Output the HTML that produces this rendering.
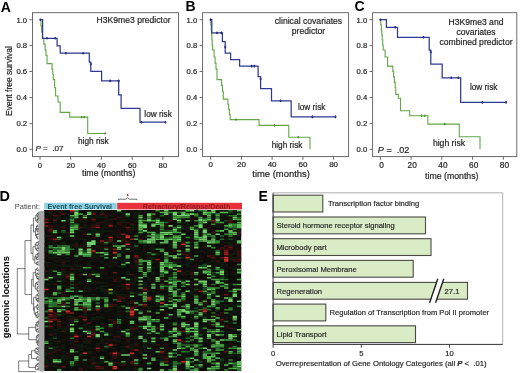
<!DOCTYPE html>
<html><head><meta charset="utf-8"><title>Figure</title>
<style>
html,body{margin:0;padding:0;background:#fff;}
svg{display:block;}
text{font-family:"Liberation Sans", sans-serif;fill:#1c1c1c;stroke:#1c1c1c;stroke-width:0.18px;}
.b{font-weight:bold;fill:#000;stroke:none;}
.t{font-size:7.7px;}
.l{font-size:8.6px;}
.e{font-size:7.6px;fill:#2a2a2a;}
</style></head><body>
<svg width="520" height="373" viewBox="0 0 520 373">
<rect width="520" height="373" fill="#fff"/>

<g>
<rect x="32.5" y="12.7" width="146.0" height="143.9" fill="#fff" stroke="#5c5c5c" stroke-width="0.9"/>
<line x1="29.5" y1="19.7" x2="32.5" y2="19.7" stroke="#5c5c5c" stroke-width="0.9"/>
<text class="t" x="27.1" y="22.5" text-anchor="end">1.0</text>
<line x1="29.5" y1="45.6" x2="32.5" y2="45.6" stroke="#5c5c5c" stroke-width="0.9"/>
<text class="t" x="27.1" y="48.4" text-anchor="end">0.8</text>
<line x1="29.5" y1="71.5" x2="32.5" y2="71.5" stroke="#5c5c5c" stroke-width="0.9"/>
<text class="t" x="27.1" y="74.3" text-anchor="end">0.6</text>
<line x1="29.5" y1="97.5" x2="32.5" y2="97.5" stroke="#5c5c5c" stroke-width="0.9"/>
<text class="t" x="27.1" y="100.3" text-anchor="end">0.4</text>
<line x1="29.5" y1="123.4" x2="32.5" y2="123.4" stroke="#5c5c5c" stroke-width="0.9"/>
<text class="t" x="27.1" y="126.2" text-anchor="end">0.2</text>
<line x1="29.5" y1="149.3" x2="32.5" y2="149.3" stroke="#5c5c5c" stroke-width="0.9"/>
<text class="t" x="27.1" y="152.1" text-anchor="end">0.0</text>
<line x1="40.0" y1="156.6" x2="40.0" y2="159.79999999999998" stroke="#5c5c5c" stroke-width="0.9"/>
<text x="40.0" y="168.0" text-anchor="middle" style="font-size:7.7px">0</text>
<line x1="70.7" y1="156.6" x2="70.7" y2="159.79999999999998" stroke="#5c5c5c" stroke-width="0.9"/>
<text x="70.7" y="168.0" text-anchor="middle" style="font-size:7.7px">20</text>
<line x1="101.4" y1="156.6" x2="101.4" y2="159.79999999999998" stroke="#5c5c5c" stroke-width="0.9"/>
<text x="101.4" y="168.0" text-anchor="middle" style="font-size:7.7px">40</text>
<line x1="132.2" y1="156.6" x2="132.2" y2="159.79999999999998" stroke="#5c5c5c" stroke-width="0.9"/>
<text x="132.2" y="168.0" text-anchor="middle" style="font-size:7.7px">60</text>
<line x1="162.9" y1="156.6" x2="162.9" y2="159.79999999999998" stroke="#5c5c5c" stroke-width="0.9"/>
<text x="162.9" y="168.0" text-anchor="middle" style="font-size:7.7px">80</text>
<text x="82" y="175.8" style="font-size:8.74px">time (months)</text>
<path d="M40.3 19.7H41.0V25.9H41.7V32.1H42.4V38.3H43.8V44.1H45.1V50.0H46.0V55.4H47.0V60.7H47.0V63.6H51.4V63.6H52.0V68.9H52.7V74.3H53.3V79.6H54.6V87.8H55.6V96.0H58.0V96.0H58.0V102.0H60.2V102.0H60.2V112.4H69.7V117.1H87.7V133.5H105.1V133.5" fill="none" stroke="#62a744" stroke-width="1.1"/>
<path d="M81.6 115.9V118.3M80.6 117.1H82.6" stroke="#4c8f33" stroke-width="1"/>
<path d="M84.4 115.9V118.3M83.4 117.1H85.4" stroke="#4c8f33" stroke-width="1"/>
<path d="M105.1 132.3V134.7M104.1 133.5H106.1" stroke="#4c8f33" stroke-width="1"/>
<path d="M40.3 19.7H42.6V38.3H57.1V45.9H60.2V53.2H89.3V62.0H90.8V71.4H101.6V80.9H118.7V94.8H121.1V108.3H140.0V122.2H165.4V122.2" fill="none" stroke="#2f3a93" stroke-width="1.25"/>
<path d="M40.3 18.4V21.0M39.2 19.7H41.4" stroke="#232c7a" stroke-width="1.1"/>
<path d="M47.0 37.0V39.6M45.9 38.3H48.1" stroke="#232c7a" stroke-width="1.1"/>
<path d="M55.2 37.0V39.6M54.1 38.3H56.3" stroke="#232c7a" stroke-width="1.1"/>
<path d="M65.9 51.9V54.5M64.8 53.2H67.0" stroke="#232c7a" stroke-width="1.1"/>
<path d="M83.1 51.9V54.5M82.0 53.2H84.2" stroke="#232c7a" stroke-width="1.1"/>
<path d="M90.8 62.7V65.3M89.7 64.0H91.9" stroke="#232c7a" stroke-width="1.1"/>
<path d="M110.2 79.6V82.2M109.1 80.9H111.3" stroke="#232c7a" stroke-width="1.1"/>
<path d="M118.7 79.6V82.2M117.6 80.9H119.8" stroke="#232c7a" stroke-width="1.1"/>
<path d="M141.5 120.9V123.5M140.4 122.2H142.6" stroke="#232c7a" stroke-width="1.1"/>
<path d="M165.4 120.9V123.5M164.3 122.2H166.5" stroke="#232c7a" stroke-width="1.1"/>
<text class="l" x="133.6" y="23.2" text-anchor="middle">H3K9me3 predictor</text>
<text x="35.4" y="150.5" style="font-size:8.1px"><tspan font-style="italic">P</tspan> =&#160;&#160;.07</text>
<text x="144.3" y="117.3" style="font-size:8.25px">low risk</text>
<text x="78" y="143.7" style="font-size:8.25px">high risk</text>
</g>
<g>
<rect x="202.6" y="12.7" width="146.00000000000003" height="143.9" fill="#fff" stroke="#5c5c5c" stroke-width="0.9"/>
<line x1="199.6" y1="19.7" x2="202.6" y2="19.7" stroke="#5c5c5c" stroke-width="0.9"/>
<text class="t" x="197.2" y="22.5" text-anchor="end">1.0</text>
<line x1="199.6" y1="45.6" x2="202.6" y2="45.6" stroke="#5c5c5c" stroke-width="0.9"/>
<text class="t" x="197.2" y="48.4" text-anchor="end">0.8</text>
<line x1="199.6" y1="71.5" x2="202.6" y2="71.5" stroke="#5c5c5c" stroke-width="0.9"/>
<text class="t" x="197.2" y="74.3" text-anchor="end">0.6</text>
<line x1="199.6" y1="97.5" x2="202.6" y2="97.5" stroke="#5c5c5c" stroke-width="0.9"/>
<text class="t" x="197.2" y="100.3" text-anchor="end">0.4</text>
<line x1="199.6" y1="123.4" x2="202.6" y2="123.4" stroke="#5c5c5c" stroke-width="0.9"/>
<text class="t" x="197.2" y="126.2" text-anchor="end">0.2</text>
<line x1="199.6" y1="149.3" x2="202.6" y2="149.3" stroke="#5c5c5c" stroke-width="0.9"/>
<text class="t" x="197.2" y="152.1" text-anchor="end">0.0</text>
<line x1="210.7" y1="156.6" x2="210.7" y2="159.79999999999998" stroke="#5c5c5c" stroke-width="0.9"/>
<text x="210.7" y="167.2" text-anchor="middle" style="font-size:8.0px">0</text>
<line x1="241.4" y1="156.6" x2="241.4" y2="159.79999999999998" stroke="#5c5c5c" stroke-width="0.9"/>
<text x="241.4" y="167.2" text-anchor="middle" style="font-size:8.0px">20</text>
<line x1="272.1" y1="156.6" x2="272.1" y2="159.79999999999998" stroke="#5c5c5c" stroke-width="0.9"/>
<text x="272.1" y="167.2" text-anchor="middle" style="font-size:8.0px">40</text>
<line x1="302.9" y1="156.6" x2="302.9" y2="159.79999999999998" stroke="#5c5c5c" stroke-width="0.9"/>
<text x="302.9" y="167.2" text-anchor="middle" style="font-size:8.0px">60</text>
<line x1="333.6" y1="156.6" x2="333.6" y2="159.79999999999998" stroke="#5c5c5c" stroke-width="0.9"/>
<text x="333.6" y="167.2" text-anchor="middle" style="font-size:8.0px">80</text>
<text x="252.3" y="177" style="font-size:9.44px">time (months)</text>
<path d="M210.5 19.7H210.8V24.8H211.2V29.8H211.6V34.9H211.9V39.9H212.2V45.0H212.6V50.0H214.1V57.0H215.1V63.1H216.0V69.1H217.0V75.2H217.0V79.6H220.8V79.6H221.6V85.4H222.5V91.2H223.3V97.0H223.3V99.1H227.1V99.1H227.9V104.2H228.6V109.3H229.4V114.5H230.2V119.6H259.1V125.4H288.8V137.2H310.0V149.2" fill="none" stroke="#62a744" stroke-width="1.1"/>
<path d="M236.0 118.4V120.8M235.0 119.6H237.0" stroke="#4c8f33" stroke-width="1"/>
<path d="M274.5 124.2V126.6M273.5 125.4H275.5" stroke="#4c8f33" stroke-width="1"/>
<path d="M298.3 136.0V138.4M297.3 137.2H299.3" stroke="#4c8f33" stroke-width="1"/>
<path d="M210.5 19.7H211.8V32.9H222.4V41.5H225.2V53.2H230.6V59.5H239.6V66.1H258.1V76.5H260.6V88.5H271.5V100.8H291.2V116.9H335.5V116.9" fill="none" stroke="#2f3a93" stroke-width="1.25"/>
<path d="M210.5 18.4V21.0M209.4 19.7H211.6" stroke="#232c7a" stroke-width="1.1"/>
<path d="M217.0 31.6V34.2M215.9 32.9H218.1" stroke="#232c7a" stroke-width="1.1"/>
<path d="M221.5 31.6V34.2M220.4 32.9H222.6" stroke="#232c7a" stroke-width="1.1"/>
<path d="M225.2 45.7V48.3M224.1 47.0H226.3" stroke="#232c7a" stroke-width="1.1"/>
<path d="M251.6 64.8V67.4M250.5 66.1H252.7" stroke="#232c7a" stroke-width="1.1"/>
<path d="M254.4 64.8V67.4M253.3 66.1H255.5" stroke="#232c7a" stroke-width="1.1"/>
<path d="M260.6 77.7V80.3M259.5 79.0H261.7" stroke="#232c7a" stroke-width="1.1"/>
<path d="M280.6 99.5V102.1M279.5 100.8H281.7" stroke="#232c7a" stroke-width="1.1"/>
<path d="M312.4 115.6V118.2M311.3 116.9H313.5" stroke="#232c7a" stroke-width="1.1"/>
<path d="M335.5 115.6V118.2M334.4 116.9H336.6" stroke="#232c7a" stroke-width="1.1"/>
<text class="l" x="308.5" y="24.2" text-anchor="middle">clinical covariates</text>
<text class="l" x="308.5" y="34.3" text-anchor="middle">predictor</text>
<text x="297.9" y="110.2" style="font-size:8.25px">low risk</text>
<text x="271.7" y="148.1" style="font-size:8.25px">high risk</text>
</g>
<g>
<rect x="372.6" y="12.7" width="144.19999999999993" height="143.9" fill="#fff" stroke="#5c5c5c" stroke-width="0.9"/>
<line x1="369.6" y1="19.7" x2="372.6" y2="19.7" stroke="#5c5c5c" stroke-width="0.9"/>
<text class="t" x="367.20000000000005" y="22.5" text-anchor="end">1.0</text>
<line x1="369.6" y1="45.6" x2="372.6" y2="45.6" stroke="#5c5c5c" stroke-width="0.9"/>
<text class="t" x="367.20000000000005" y="48.4" text-anchor="end">0.8</text>
<line x1="369.6" y1="71.5" x2="372.6" y2="71.5" stroke="#5c5c5c" stroke-width="0.9"/>
<text class="t" x="367.20000000000005" y="74.3" text-anchor="end">0.6</text>
<line x1="369.6" y1="97.5" x2="372.6" y2="97.5" stroke="#5c5c5c" stroke-width="0.9"/>
<text class="t" x="367.20000000000005" y="100.3" text-anchor="end">0.4</text>
<line x1="369.6" y1="123.4" x2="372.6" y2="123.4" stroke="#5c5c5c" stroke-width="0.9"/>
<text class="t" x="367.20000000000005" y="126.2" text-anchor="end">0.2</text>
<line x1="369.6" y1="149.3" x2="372.6" y2="149.3" stroke="#5c5c5c" stroke-width="0.9"/>
<text class="t" x="367.20000000000005" y="152.1" text-anchor="end">0.0</text>
<line x1="380.4" y1="156.6" x2="380.4" y2="159.79999999999998" stroke="#5c5c5c" stroke-width="0.9"/>
<text x="381.5" y="168.0" text-anchor="middle" style="font-size:8.3px">0</text>
<line x1="411.1" y1="156.6" x2="411.1" y2="159.79999999999998" stroke="#5c5c5c" stroke-width="0.9"/>
<text x="412.2" y="168.0" text-anchor="middle" style="font-size:8.3px">20</text>
<line x1="441.8" y1="156.6" x2="441.8" y2="159.79999999999998" stroke="#5c5c5c" stroke-width="0.9"/>
<text x="442.9" y="168.0" text-anchor="middle" style="font-size:8.3px">40</text>
<line x1="472.6" y1="156.6" x2="472.6" y2="159.79999999999998" stroke="#5c5c5c" stroke-width="0.9"/>
<text x="473.7" y="168.0" text-anchor="middle" style="font-size:8.3px">60</text>
<line x1="503.3" y1="156.6" x2="503.3" y2="159.79999999999998" stroke="#5c5c5c" stroke-width="0.9"/>
<text x="504.4" y="168.0" text-anchor="middle" style="font-size:8.3px">80</text>
<text x="425.1" y="178.5" style="font-size:8.74px">time (months)</text>
<path d="M380.3 19.7H380.8V24.8H381.3V29.8H381.8V34.9H382.2V39.9H382.7V45.0H383.2V50.0H385.1V57.0H387.6V63.2H387.6V66.1H392.0V66.1H392.8V71.5H393.6V76.9H394.4V82.4H395.2V87.8H395.8V94.4H398.3V94.4H398.3V98.2H400.5V98.2H400.5V110.8H409.7V115.8H427.9V124.1H459.3V136.8H480.0V149.2" fill="none" stroke="#62a744" stroke-width="1.1"/>
<path d="M421.6 114.6V117.0M420.6 115.8H422.6" stroke="#4c8f33" stroke-width="1"/>
<path d="M424.8 114.6V117.0M423.8 115.8H425.8" stroke="#4c8f33" stroke-width="1"/>
<path d="M444.8 122.9V125.3M443.8 124.1H445.8" stroke="#4c8f33" stroke-width="1"/>
<path d="M380.3 19.7H386.4V27.3H397.5V37.3H429.2V50.0H430.8V64.1H442.2V77.8H460.7V102.4H506.0V102.4" fill="none" stroke="#2f3a93" stroke-width="1.25"/>
<path d="M380.3 18.4V21.0M379.2 19.7H381.4" stroke="#232c7a" stroke-width="1.1"/>
<path d="M395.2 26.0V28.6M394.1 27.3H396.3" stroke="#232c7a" stroke-width="1.1"/>
<path d="M423.5 36.0V38.6M422.4 37.3H424.6" stroke="#232c7a" stroke-width="1.1"/>
<path d="M430.8 50.7V53.3M429.7 52.0H431.9" stroke="#232c7a" stroke-width="1.1"/>
<path d="M451.2 76.5V79.1M450.1 77.8H452.3" stroke="#232c7a" stroke-width="1.1"/>
<path d="M458.3 76.5V79.1M457.2 77.8H459.4" stroke="#232c7a" stroke-width="1.1"/>
<path d="M482.4 101.1V103.7M481.3 102.4H483.5" stroke="#232c7a" stroke-width="1.1"/>
<path d="M506.0 101.1V103.7M504.9 102.4H507.1" stroke="#232c7a" stroke-width="1.1"/>
<text class="l" x="476" y="24.5" text-anchor="middle">H3K9me3 and</text>
<text class="l" x="476" y="34.6" text-anchor="middle">covariates</text>
<text class="l" x="476" y="44.7" text-anchor="middle">combined predictor</text>
<text x="377.8" y="152.6" style="font-size:9.1px"><tspan font-style="italic">P</tspan> =&#160;&#160;.02</text>
<text x="469.9" y="90.2" style="font-size:8.25px">low risk</text>
<text x="432.9" y="146.0" style="font-size:8.65px">high risk</text>
</g>
<text class="l" transform="translate(12,116) rotate(-90)" style="font-size:8.5px">Event free survival</text>
<text class="b" x="0.8" y="11.6" style="font-size:14px">A</text>
<text class="b" x="185.5" y="11.2" style="font-size:14px">B</text>
<text class="b" x="354.4" y="11.2" style="font-size:14px">C</text>
<text class="b" x="-0.5" y="201.2" style="font-size:14.4px">D</text>
<text class="b" x="258.6" y="200.8" style="font-size:14px">E</text>
<g>
<text x="14.8" y="209.2" style="font-size:7.6px;fill:#4a4a4a;stroke:none" textLength="25.2" lengthAdjust="spacingAndGlyphs">Patient:</text>
<rect x="44.2" y="202.8" width="72.6" height="6.6" fill="#8fd0e2"/>
<rect x="117.2" y="202.8" width="124.8" height="6.6" fill="#e8313a"/>
<text x="47.4" y="208.7" style="font-size:7.2px;font-weight:bold;fill:#17525f;stroke:none">Event free Survival</text>
<text x="142.8" y="208.7" style="font-size:7.2px;font-weight:bold;fill:#8c1d22;stroke:none">Refractory/Relapse/Death</text>
<path d="M118.6 200.2V199.2H126L127.7 197.8L129.4 199.2H136.9V200.2" fill="none" stroke="#333" stroke-width="0.7"/>
<circle cx="127.7" cy="195" r="0.9" fill="#d22"/>
<text class="b" transform="translate(9.4,338.2) rotate(-90)" style="font-size:9.35px">genomic locations</text>
<rect x="44.2" y="210" width="197.0" height="161" fill="#0a0d09"/>
<defs><filter id="bl" x="0" y="0" width="100%" height="100%"><feGaussianBlur stdDeviation="0.75 0.55"/></filter></defs>
<g filter="url(#bl)">
<path fill="#1c0e0c" d="M44.20 210.00h4.28v1.54h-4.28zM44.20 228.45h4.28v1.54h-4.28zM44.20 230.12h4.28v1.54h-4.28zM44.20 243.54h4.28v1.54h-4.28zM44.20 251.93h4.28v1.54h-4.28zM44.20 255.28h4.28v1.54h-4.28zM44.20 258.64h4.28v1.54h-4.28zM44.20 263.67h4.28v1.54h-4.28zM44.20 272.05h4.28v1.54h-4.28zM44.20 285.47h4.28v1.54h-4.28zM44.20 292.18h4.28v1.54h-4.28zM44.20 308.95h4.28v1.54h-4.28zM44.20 339.14h4.28v1.54h-4.28zM44.20 347.52h4.28v1.54h-4.28zM44.20 350.88h4.28v1.54h-4.28zM44.20 355.91h4.28v1.54h-4.28zM44.20 367.65h4.28v1.54h-4.28zM48.48 215.03h4.28v1.54h-4.28zM48.48 221.74h4.28v1.54h-4.28zM48.48 258.64h4.28v1.54h-4.28zM48.48 265.34h4.28v1.54h-4.28zM48.48 273.73h4.28v1.54h-4.28zM48.48 288.82h4.28v1.54h-4.28zM48.48 290.50h4.28v1.54h-4.28zM48.48 307.27h4.28v1.54h-4.28zM48.48 322.36h4.28v1.54h-4.28zM48.48 324.04h4.28v1.54h-4.28zM48.48 327.40h4.28v1.54h-4.28zM48.48 332.43h4.28v1.54h-4.28zM48.48 344.17h4.28v1.54h-4.28zM48.48 354.23h4.28v1.54h-4.28zM48.48 355.91h4.28v1.54h-4.28zM48.48 357.58h4.28v1.54h-4.28zM48.48 362.61h4.28v1.54h-4.28zM48.48 364.29h4.28v1.54h-4.28zM48.48 369.32h4.28v1.54h-4.28zM52.77 210.00h4.28v1.54h-4.28zM52.77 211.68h4.28v1.54h-4.28zM52.77 213.35h4.28v1.54h-4.28zM52.77 225.09h4.28v1.54h-4.28zM52.77 235.16h4.28v1.54h-4.28zM52.77 236.83h4.28v1.54h-4.28zM52.77 241.86h4.28v1.54h-4.28zM52.77 256.96h4.28v1.54h-4.28zM52.77 268.70h4.28v1.54h-4.28zM52.77 272.05h4.28v1.54h-4.28zM52.77 280.44h4.28v1.54h-4.28zM52.77 287.15h4.28v1.54h-4.28zM52.77 290.50h4.28v1.54h-4.28zM52.77 298.89h4.28v1.54h-4.28zM52.77 334.10h4.28v1.54h-4.28zM52.77 339.14h4.28v1.54h-4.28zM52.77 342.49h4.28v1.54h-4.28zM52.77 364.29h4.28v1.54h-4.28zM57.05 210.00h4.28v1.54h-4.28zM57.05 211.68h4.28v1.54h-4.28zM57.05 225.09h4.28v1.54h-4.28zM57.05 240.19h4.28v1.54h-4.28zM57.05 258.64h4.28v1.54h-4.28zM57.05 260.31h4.28v1.54h-4.28zM57.05 261.99h4.28v1.54h-4.28zM57.05 265.34h4.28v1.54h-4.28zM57.05 350.88h4.28v1.54h-4.28zM57.05 354.23h4.28v1.54h-4.28zM57.05 365.97h4.28v1.54h-4.28zM61.33 210.00h4.28v1.54h-4.28zM61.33 211.68h4.28v1.54h-4.28zM61.33 221.74h4.28v1.54h-4.28zM61.33 223.42h4.28v1.54h-4.28zM61.33 228.45h4.28v1.54h-4.28zM61.33 255.28h4.28v1.54h-4.28zM61.33 258.64h4.28v1.54h-4.28zM61.33 275.41h4.28v1.54h-4.28zM61.33 278.76h4.28v1.54h-4.28zM61.33 283.79h4.28v1.54h-4.28zM61.33 290.50h4.28v1.54h-4.28zM61.33 307.27h4.28v1.54h-4.28zM61.33 312.30h4.28v1.54h-4.28zM61.33 322.36h4.28v1.54h-4.28zM61.33 325.72h4.28v1.54h-4.28zM61.33 335.78h4.28v1.54h-4.28zM61.33 345.84h4.28v1.54h-4.28zM61.33 354.23h4.28v1.54h-4.28zM65.61 221.74h4.28v1.54h-4.28zM65.61 223.42h4.28v1.54h-4.28zM65.61 233.48h4.28v1.54h-4.28zM65.61 238.51h4.28v1.54h-4.28zM65.61 260.31h4.28v1.54h-4.28zM65.61 270.38h4.28v1.54h-4.28zM65.61 272.05h4.28v1.54h-4.28zM65.61 273.73h4.28v1.54h-4.28zM65.61 278.76h4.28v1.54h-4.28zM65.61 282.11h4.28v1.54h-4.28zM65.61 287.15h4.28v1.54h-4.28zM65.61 317.33h4.28v1.54h-4.28zM65.61 319.01h4.28v1.54h-4.28zM65.61 322.36h4.28v1.54h-4.28zM65.61 327.40h4.28v1.54h-4.28zM65.61 339.14h4.28v1.54h-4.28zM65.61 354.23h4.28v1.54h-4.28zM65.61 355.91h4.28v1.54h-4.28zM69.90 213.35h4.28v1.54h-4.28zM69.90 238.51h4.28v1.54h-4.28zM69.90 251.93h4.28v1.54h-4.28zM69.90 255.28h4.28v1.54h-4.28zM69.90 258.64h4.28v1.54h-4.28zM69.90 265.34h4.28v1.54h-4.28zM69.90 282.11h4.28v1.54h-4.28zM69.90 300.56h4.28v1.54h-4.28zM69.90 302.24h4.28v1.54h-4.28zM69.90 305.59h4.28v1.54h-4.28zM69.90 310.62h4.28v1.54h-4.28zM69.90 335.78h4.28v1.54h-4.28zM69.90 339.14h4.28v1.54h-4.28zM69.90 344.17h4.28v1.54h-4.28zM69.90 345.84h4.28v1.54h-4.28zM69.90 347.52h4.28v1.54h-4.28zM69.90 352.55h4.28v1.54h-4.28zM69.90 354.23h4.28v1.54h-4.28zM69.90 369.32h4.28v1.54h-4.28zM74.18 230.12h4.28v1.54h-4.28zM74.18 238.51h4.28v1.54h-4.28zM74.18 261.99h4.28v1.54h-4.28zM74.18 267.02h4.28v1.54h-4.28zM74.18 270.38h4.28v1.54h-4.28zM74.18 273.73h4.28v1.54h-4.28zM74.18 277.08h4.28v1.54h-4.28zM74.18 297.21h4.28v1.54h-4.28zM74.18 330.75h4.28v1.54h-4.28zM74.18 332.43h4.28v1.54h-4.28zM74.18 337.46h4.28v1.54h-4.28zM74.18 339.14h4.28v1.54h-4.28zM74.18 345.84h4.28v1.54h-4.28zM74.18 347.52h4.28v1.54h-4.28zM74.18 362.61h4.28v1.54h-4.28zM78.46 216.71h4.28v1.54h-4.28zM78.46 218.39h4.28v1.54h-4.28zM78.46 220.06h4.28v1.54h-4.28zM78.46 225.09h4.28v1.54h-4.28zM78.46 233.48h4.28v1.54h-4.28zM78.46 236.83h4.28v1.54h-4.28zM78.46 256.96h4.28v1.54h-4.28zM78.46 288.82h4.28v1.54h-4.28zM78.46 293.85h4.28v1.54h-4.28zM78.46 335.78h4.28v1.54h-4.28zM78.46 340.81h4.28v1.54h-4.28zM78.46 347.52h4.28v1.54h-4.28zM78.46 352.55h4.28v1.54h-4.28zM78.46 355.91h4.28v1.54h-4.28zM78.46 360.94h4.28v1.54h-4.28zM78.46 365.97h4.28v1.54h-4.28zM82.74 213.35h4.28v1.54h-4.28zM82.74 218.39h4.28v1.54h-4.28zM82.74 221.74h4.28v1.54h-4.28zM82.74 230.12h4.28v1.54h-4.28zM82.74 231.80h4.28v1.54h-4.28zM82.74 240.19h4.28v1.54h-4.28zM82.74 245.22h4.28v1.54h-4.28zM82.74 246.90h4.28v1.54h-4.28zM82.74 258.64h4.28v1.54h-4.28zM82.74 261.99h4.28v1.54h-4.28zM82.74 265.34h4.28v1.54h-4.28zM82.74 283.79h4.28v1.54h-4.28zM82.74 287.15h4.28v1.54h-4.28zM82.74 295.53h4.28v1.54h-4.28zM82.74 322.36h4.28v1.54h-4.28zM82.74 339.14h4.28v1.54h-4.28zM82.74 350.88h4.28v1.54h-4.28zM82.74 357.58h4.28v1.54h-4.28zM87.03 220.06h4.28v1.54h-4.28zM87.03 225.09h4.28v1.54h-4.28zM87.03 226.77h4.28v1.54h-4.28zM87.03 228.45h4.28v1.54h-4.28zM87.03 246.90h4.28v1.54h-4.28zM87.03 256.96h4.28v1.54h-4.28zM87.03 282.11h4.28v1.54h-4.28zM87.03 288.82h4.28v1.54h-4.28zM87.03 327.40h4.28v1.54h-4.28zM87.03 334.10h4.28v1.54h-4.28zM87.03 337.46h4.28v1.54h-4.28zM87.03 359.26h4.28v1.54h-4.28zM87.03 360.94h4.28v1.54h-4.28zM87.03 365.97h4.28v1.54h-4.28zM87.03 367.65h4.28v1.54h-4.28zM91.31 253.60h4.28v1.54h-4.28zM91.31 258.64h4.28v1.54h-4.28zM91.31 260.31h4.28v1.54h-4.28zM91.31 265.34h4.28v1.54h-4.28zM91.31 277.08h4.28v1.54h-4.28zM91.31 280.44h4.28v1.54h-4.28zM91.31 288.82h4.28v1.54h-4.28zM91.31 313.98h4.28v1.54h-4.28zM91.31 320.69h4.28v1.54h-4.28zM91.31 350.88h4.28v1.54h-4.28zM91.31 352.55h4.28v1.54h-4.28zM91.31 355.91h4.28v1.54h-4.28zM95.59 246.90h4.28v1.54h-4.28zM95.59 256.96h4.28v1.54h-4.28zM95.59 258.64h4.28v1.54h-4.28zM95.59 260.31h4.28v1.54h-4.28zM95.59 280.44h4.28v1.54h-4.28zM95.59 295.53h4.28v1.54h-4.28zM95.59 310.62h4.28v1.54h-4.28zM95.59 312.30h4.28v1.54h-4.28zM95.59 319.01h4.28v1.54h-4.28zM95.59 330.75h4.28v1.54h-4.28zM95.59 345.84h4.28v1.54h-4.28zM95.59 355.91h4.28v1.54h-4.28zM95.59 364.29h4.28v1.54h-4.28zM99.87 215.03h4.28v1.54h-4.28zM99.87 228.45h4.28v1.54h-4.28zM99.87 233.48h4.28v1.54h-4.28zM99.87 235.16h4.28v1.54h-4.28zM99.87 236.83h4.28v1.54h-4.28zM99.87 246.90h4.28v1.54h-4.28zM99.87 250.25h4.28v1.54h-4.28zM99.87 253.60h4.28v1.54h-4.28zM99.87 268.70h4.28v1.54h-4.28zM99.87 270.38h4.28v1.54h-4.28zM99.87 300.56h4.28v1.54h-4.28zM99.87 313.98h4.28v1.54h-4.28zM99.87 324.04h4.28v1.54h-4.28zM99.87 334.10h4.28v1.54h-4.28zM99.87 337.46h4.28v1.54h-4.28zM99.87 342.49h4.28v1.54h-4.28zM99.87 345.84h4.28v1.54h-4.28zM104.16 211.68h4.28v1.54h-4.28zM104.16 213.35h4.28v1.54h-4.28zM104.16 218.39h4.28v1.54h-4.28zM104.16 221.74h4.28v1.54h-4.28zM104.16 240.19h4.28v1.54h-4.28zM104.16 250.25h4.28v1.54h-4.28zM104.16 261.99h4.28v1.54h-4.28zM104.16 265.34h4.28v1.54h-4.28zM104.16 268.70h4.28v1.54h-4.28zM104.16 272.05h4.28v1.54h-4.28zM104.16 273.73h4.28v1.54h-4.28zM104.16 277.08h4.28v1.54h-4.28zM104.16 282.11h4.28v1.54h-4.28zM104.16 293.85h4.28v1.54h-4.28zM104.16 307.27h4.28v1.54h-4.28zM104.16 308.95h4.28v1.54h-4.28zM104.16 315.66h4.28v1.54h-4.28zM104.16 324.04h4.28v1.54h-4.28zM104.16 325.72h4.28v1.54h-4.28zM104.16 339.14h4.28v1.54h-4.28zM104.16 355.91h4.28v1.54h-4.28zM104.16 362.61h4.28v1.54h-4.28zM108.44 210.00h4.28v1.54h-4.28zM108.44 213.35h4.28v1.54h-4.28zM108.44 220.06h4.28v1.54h-4.28zM108.44 221.74h4.28v1.54h-4.28zM108.44 226.77h4.28v1.54h-4.28zM108.44 233.48h4.28v1.54h-4.28zM108.44 248.57h4.28v1.54h-4.28zM108.44 250.25h4.28v1.54h-4.28zM108.44 253.60h4.28v1.54h-4.28zM108.44 256.96h4.28v1.54h-4.28zM108.44 260.31h4.28v1.54h-4.28zM108.44 263.67h4.28v1.54h-4.28zM108.44 267.02h4.28v1.54h-4.28zM108.44 283.79h4.28v1.54h-4.28zM108.44 302.24h4.28v1.54h-4.28zM108.44 315.66h4.28v1.54h-4.28zM108.44 327.40h4.28v1.54h-4.28zM108.44 329.07h4.28v1.54h-4.28zM108.44 332.43h4.28v1.54h-4.28zM108.44 339.14h4.28v1.54h-4.28zM108.44 340.81h4.28v1.54h-4.28zM108.44 342.49h4.28v1.54h-4.28zM108.44 345.84h4.28v1.54h-4.28zM108.44 347.52h4.28v1.54h-4.28zM108.44 354.23h4.28v1.54h-4.28zM108.44 359.26h4.28v1.54h-4.28zM108.44 365.97h4.28v1.54h-4.28zM108.44 369.32h4.28v1.54h-4.28zM112.72 215.03h4.28v1.54h-4.28zM112.72 225.09h4.28v1.54h-4.28zM112.72 230.12h4.28v1.54h-4.28zM112.72 231.80h4.28v1.54h-4.28zM112.72 260.31h4.28v1.54h-4.28zM112.72 263.67h4.28v1.54h-4.28zM112.72 265.34h4.28v1.54h-4.28zM112.72 275.41h4.28v1.54h-4.28zM112.72 295.53h4.28v1.54h-4.28zM112.72 300.56h4.28v1.54h-4.28zM112.72 327.40h4.28v1.54h-4.28zM112.72 337.46h4.28v1.54h-4.28zM112.72 340.81h4.28v1.54h-4.28zM112.72 349.20h4.28v1.54h-4.28zM112.72 350.88h4.28v1.54h-4.28zM112.72 360.94h4.28v1.54h-4.28zM117.00 215.03h4.28v1.54h-4.28zM117.00 218.39h4.28v1.54h-4.28zM117.00 226.77h4.28v1.54h-4.28zM117.00 228.45h4.28v1.54h-4.28zM117.00 230.12h4.28v1.54h-4.28zM117.00 231.80h4.28v1.54h-4.28zM117.00 233.48h4.28v1.54h-4.28zM117.00 277.08h4.28v1.54h-4.28zM117.00 278.76h4.28v1.54h-4.28zM117.00 288.82h4.28v1.54h-4.28zM117.00 290.50h4.28v1.54h-4.28zM117.00 312.30h4.28v1.54h-4.28zM117.00 313.98h4.28v1.54h-4.28zM117.00 324.04h4.28v1.54h-4.28zM117.00 325.72h4.28v1.54h-4.28zM117.00 327.40h4.28v1.54h-4.28zM117.00 329.07h4.28v1.54h-4.28zM117.00 337.46h4.28v1.54h-4.28zM117.00 339.14h4.28v1.54h-4.28zM117.00 350.88h4.28v1.54h-4.28zM117.00 352.55h4.28v1.54h-4.28zM117.00 354.23h4.28v1.54h-4.28zM117.00 355.91h4.28v1.54h-4.28zM117.00 364.29h4.28v1.54h-4.28zM117.00 367.65h4.28v1.54h-4.28zM121.29 216.71h4.28v1.54h-4.28zM121.29 218.39h4.28v1.54h-4.28zM121.29 223.42h4.28v1.54h-4.28zM121.29 225.09h4.28v1.54h-4.28zM121.29 226.77h4.28v1.54h-4.28zM121.29 235.16h4.28v1.54h-4.28zM121.29 241.86h4.28v1.54h-4.28zM121.29 243.54h4.28v1.54h-4.28zM121.29 248.57h4.28v1.54h-4.28zM121.29 278.76h4.28v1.54h-4.28zM121.29 287.15h4.28v1.54h-4.28zM121.29 288.82h4.28v1.54h-4.28zM121.29 295.53h4.28v1.54h-4.28zM121.29 298.89h4.28v1.54h-4.28zM121.29 312.30h4.28v1.54h-4.28zM121.29 319.01h4.28v1.54h-4.28zM121.29 332.43h4.28v1.54h-4.28zM121.29 337.46h4.28v1.54h-4.28zM121.29 342.49h4.28v1.54h-4.28zM121.29 357.58h4.28v1.54h-4.28zM125.57 211.68h4.28v1.54h-4.28zM125.57 230.12h4.28v1.54h-4.28zM125.57 245.22h4.28v1.54h-4.28zM125.57 246.90h4.28v1.54h-4.28zM125.57 250.25h4.28v1.54h-4.28zM125.57 253.60h4.28v1.54h-4.28zM125.57 258.64h4.28v1.54h-4.28zM125.57 282.11h4.28v1.54h-4.28zM125.57 285.47h4.28v1.54h-4.28zM125.57 290.50h4.28v1.54h-4.28zM125.57 293.85h4.28v1.54h-4.28zM125.57 295.53h4.28v1.54h-4.28zM125.57 297.21h4.28v1.54h-4.28zM125.57 320.69h4.28v1.54h-4.28zM125.57 337.46h4.28v1.54h-4.28zM125.57 342.49h4.28v1.54h-4.28zM125.57 344.17h4.28v1.54h-4.28zM125.57 347.52h4.28v1.54h-4.28zM125.57 350.88h4.28v1.54h-4.28zM125.57 352.55h4.28v1.54h-4.28zM125.57 359.26h4.28v1.54h-4.28zM125.57 365.97h4.28v1.54h-4.28zM129.85 211.68h4.28v1.54h-4.28zM129.85 215.03h4.28v1.54h-4.28zM129.85 220.06h4.28v1.54h-4.28zM129.85 230.12h4.28v1.54h-4.28zM129.85 231.80h4.28v1.54h-4.28zM129.85 245.22h4.28v1.54h-4.28zM129.85 246.90h4.28v1.54h-4.28zM129.85 256.96h4.28v1.54h-4.28zM129.85 265.34h4.28v1.54h-4.28zM129.85 267.02h4.28v1.54h-4.28zM129.85 283.79h4.28v1.54h-4.28zM129.85 287.15h4.28v1.54h-4.28zM129.85 288.82h4.28v1.54h-4.28zM129.85 305.59h4.28v1.54h-4.28zM129.85 330.75h4.28v1.54h-4.28zM129.85 334.10h4.28v1.54h-4.28zM129.85 345.84h4.28v1.54h-4.28zM129.85 367.65h4.28v1.54h-4.28zM134.13 221.74h4.28v1.54h-4.28zM134.13 228.45h4.28v1.54h-4.28zM134.13 233.48h4.28v1.54h-4.28zM134.13 246.90h4.28v1.54h-4.28zM134.13 258.64h4.28v1.54h-4.28zM134.13 268.70h4.28v1.54h-4.28zM134.13 275.41h4.28v1.54h-4.28zM134.13 303.92h4.28v1.54h-4.28zM134.13 310.62h4.28v1.54h-4.28zM134.13 312.30h4.28v1.54h-4.28zM134.13 324.04h4.28v1.54h-4.28zM134.13 330.75h4.28v1.54h-4.28zM134.13 339.14h4.28v1.54h-4.28zM134.13 340.81h4.28v1.54h-4.28zM134.13 355.91h4.28v1.54h-4.28zM134.13 357.58h4.28v1.54h-4.28zM138.42 211.68h4.28v1.54h-4.28zM138.42 235.16h4.28v1.54h-4.28zM138.42 236.83h4.28v1.54h-4.28zM138.42 251.93h4.28v1.54h-4.28zM138.42 255.28h4.28v1.54h-4.28zM138.42 256.96h4.28v1.54h-4.28zM138.42 265.34h4.28v1.54h-4.28zM138.42 272.05h4.28v1.54h-4.28zM138.42 278.76h4.28v1.54h-4.28zM138.42 282.11h4.28v1.54h-4.28zM138.42 285.47h4.28v1.54h-4.28zM138.42 290.50h4.28v1.54h-4.28zM138.42 292.18h4.28v1.54h-4.28zM138.42 295.53h4.28v1.54h-4.28zM138.42 298.89h4.28v1.54h-4.28zM138.42 302.24h4.28v1.54h-4.28zM138.42 305.59h4.28v1.54h-4.28zM138.42 322.36h4.28v1.54h-4.28zM138.42 349.20h4.28v1.54h-4.28zM138.42 357.58h4.28v1.54h-4.28zM138.42 364.29h4.28v1.54h-4.28zM142.70 211.68h4.28v1.54h-4.28zM142.70 228.45h4.28v1.54h-4.28zM142.70 243.54h4.28v1.54h-4.28zM142.70 248.57h4.28v1.54h-4.28zM142.70 267.02h4.28v1.54h-4.28zM142.70 268.70h4.28v1.54h-4.28zM142.70 290.50h4.28v1.54h-4.28zM142.70 302.24h4.28v1.54h-4.28zM142.70 308.95h4.28v1.54h-4.28zM142.70 310.62h4.28v1.54h-4.28zM142.70 312.30h4.28v1.54h-4.28zM142.70 313.98h4.28v1.54h-4.28zM142.70 335.78h4.28v1.54h-4.28zM142.70 347.52h4.28v1.54h-4.28zM142.70 355.91h4.28v1.54h-4.28zM142.70 360.94h4.28v1.54h-4.28zM146.98 226.77h4.28v1.54h-4.28zM146.98 230.12h4.28v1.54h-4.28zM146.98 233.48h4.28v1.54h-4.28zM146.98 236.83h4.28v1.54h-4.28zM146.98 245.22h4.28v1.54h-4.28zM146.98 255.28h4.28v1.54h-4.28zM146.98 280.44h4.28v1.54h-4.28zM146.98 283.79h4.28v1.54h-4.28zM146.98 285.47h4.28v1.54h-4.28zM146.98 300.56h4.28v1.54h-4.28zM146.98 312.30h4.28v1.54h-4.28zM146.98 334.10h4.28v1.54h-4.28zM146.98 337.46h4.28v1.54h-4.28zM146.98 344.17h4.28v1.54h-4.28zM146.98 349.20h4.28v1.54h-4.28zM146.98 357.58h4.28v1.54h-4.28zM146.98 360.94h4.28v1.54h-4.28zM151.27 210.00h4.28v1.54h-4.28zM151.27 211.68h4.28v1.54h-4.28zM151.27 221.74h4.28v1.54h-4.28zM151.27 245.22h4.28v1.54h-4.28zM151.27 250.25h4.28v1.54h-4.28zM151.27 251.93h4.28v1.54h-4.28zM151.27 277.08h4.28v1.54h-4.28zM151.27 278.76h4.28v1.54h-4.28zM151.27 280.44h4.28v1.54h-4.28zM151.27 295.53h4.28v1.54h-4.28zM151.27 312.30h4.28v1.54h-4.28zM151.27 313.98h4.28v1.54h-4.28zM151.27 335.78h4.28v1.54h-4.28zM151.27 349.20h4.28v1.54h-4.28zM151.27 354.23h4.28v1.54h-4.28zM151.27 369.32h4.28v1.54h-4.28zM155.55 211.68h4.28v1.54h-4.28zM155.55 216.71h4.28v1.54h-4.28zM155.55 228.45h4.28v1.54h-4.28zM155.55 230.12h4.28v1.54h-4.28zM155.55 240.19h4.28v1.54h-4.28zM155.55 260.31h4.28v1.54h-4.28zM155.55 261.99h4.28v1.54h-4.28zM155.55 265.34h4.28v1.54h-4.28zM155.55 283.79h4.28v1.54h-4.28zM155.55 287.15h4.28v1.54h-4.28zM155.55 292.18h4.28v1.54h-4.28zM155.55 305.59h4.28v1.54h-4.28zM155.55 317.33h4.28v1.54h-4.28zM155.55 325.72h4.28v1.54h-4.28zM155.55 339.14h4.28v1.54h-4.28zM155.55 349.20h4.28v1.54h-4.28zM155.55 367.65h4.28v1.54h-4.28zM159.83 260.31h4.28v1.54h-4.28zM159.83 280.44h4.28v1.54h-4.28zM159.83 282.11h4.28v1.54h-4.28zM159.83 310.62h4.28v1.54h-4.28zM159.83 315.66h4.28v1.54h-4.28zM159.83 320.69h4.28v1.54h-4.28zM159.83 339.14h4.28v1.54h-4.28zM159.83 344.17h4.28v1.54h-4.28zM159.83 349.20h4.28v1.54h-4.28zM159.83 354.23h4.28v1.54h-4.28zM159.83 357.58h4.28v1.54h-4.28zM159.83 367.65h4.28v1.54h-4.28zM164.11 215.03h4.28v1.54h-4.28zM164.11 218.39h4.28v1.54h-4.28zM164.11 223.42h4.28v1.54h-4.28zM164.11 228.45h4.28v1.54h-4.28zM164.11 250.25h4.28v1.54h-4.28zM164.11 268.70h4.28v1.54h-4.28zM164.11 277.08h4.28v1.54h-4.28zM164.11 282.11h4.28v1.54h-4.28zM164.11 283.79h4.28v1.54h-4.28zM164.11 297.21h4.28v1.54h-4.28zM164.11 300.56h4.28v1.54h-4.28zM164.11 310.62h4.28v1.54h-4.28zM164.11 312.30h4.28v1.54h-4.28zM164.11 330.75h4.28v1.54h-4.28zM164.11 342.49h4.28v1.54h-4.28zM164.11 344.17h4.28v1.54h-4.28zM164.11 345.84h4.28v1.54h-4.28zM164.11 347.52h4.28v1.54h-4.28zM164.11 355.91h4.28v1.54h-4.28zM164.11 369.32h4.28v1.54h-4.28zM168.40 218.39h4.28v1.54h-4.28zM168.40 226.77h4.28v1.54h-4.28zM168.40 241.86h4.28v1.54h-4.28zM168.40 246.90h4.28v1.54h-4.28zM168.40 251.93h4.28v1.54h-4.28zM168.40 283.79h4.28v1.54h-4.28zM168.40 295.53h4.28v1.54h-4.28zM168.40 315.66h4.28v1.54h-4.28zM168.40 324.04h4.28v1.54h-4.28zM168.40 329.07h4.28v1.54h-4.28zM168.40 347.52h4.28v1.54h-4.28zM168.40 359.26h4.28v1.54h-4.28zM172.68 258.64h4.28v1.54h-4.28zM172.68 260.31h4.28v1.54h-4.28zM172.68 300.56h4.28v1.54h-4.28zM172.68 308.95h4.28v1.54h-4.28zM172.68 325.72h4.28v1.54h-4.28zM176.96 213.35h4.28v1.54h-4.28zM176.96 246.90h4.28v1.54h-4.28zM176.96 248.57h4.28v1.54h-4.28zM176.96 251.93h4.28v1.54h-4.28zM176.96 258.64h4.28v1.54h-4.28zM176.96 260.31h4.28v1.54h-4.28zM176.96 273.73h4.28v1.54h-4.28zM176.96 290.50h4.28v1.54h-4.28zM176.96 293.85h4.28v1.54h-4.28zM176.96 297.21h4.28v1.54h-4.28zM176.96 305.59h4.28v1.54h-4.28zM176.96 325.72h4.28v1.54h-4.28zM176.96 329.07h4.28v1.54h-4.28zM176.96 350.88h4.28v1.54h-4.28zM176.96 357.58h4.28v1.54h-4.28zM176.96 359.26h4.28v1.54h-4.28zM181.24 218.39h4.28v1.54h-4.28zM181.24 225.09h4.28v1.54h-4.28zM181.24 231.80h4.28v1.54h-4.28zM181.24 251.93h4.28v1.54h-4.28zM181.24 261.99h4.28v1.54h-4.28zM181.24 288.82h4.28v1.54h-4.28zM181.24 307.27h4.28v1.54h-4.28zM181.24 332.43h4.28v1.54h-4.28zM181.24 334.10h4.28v1.54h-4.28zM181.24 352.55h4.28v1.54h-4.28zM181.24 357.58h4.28v1.54h-4.28zM181.24 359.26h4.28v1.54h-4.28zM185.53 228.45h4.28v1.54h-4.28zM185.53 230.12h4.28v1.54h-4.28zM185.53 238.51h4.28v1.54h-4.28zM185.53 251.93h4.28v1.54h-4.28zM185.53 267.02h4.28v1.54h-4.28zM185.53 278.76h4.28v1.54h-4.28zM185.53 292.18h4.28v1.54h-4.28zM185.53 298.89h4.28v1.54h-4.28zM185.53 300.56h4.28v1.54h-4.28zM189.81 215.03h4.28v1.54h-4.28zM189.81 216.71h4.28v1.54h-4.28zM189.81 218.39h4.28v1.54h-4.28zM189.81 220.06h4.28v1.54h-4.28zM189.81 238.51h4.28v1.54h-4.28zM189.81 240.19h4.28v1.54h-4.28zM189.81 245.22h4.28v1.54h-4.28zM189.81 246.90h4.28v1.54h-4.28zM189.81 248.57h4.28v1.54h-4.28zM189.81 256.96h4.28v1.54h-4.28zM189.81 265.34h4.28v1.54h-4.28zM189.81 270.38h4.28v1.54h-4.28zM189.81 275.41h4.28v1.54h-4.28zM189.81 282.11h4.28v1.54h-4.28zM189.81 283.79h4.28v1.54h-4.28zM189.81 285.47h4.28v1.54h-4.28zM189.81 287.15h4.28v1.54h-4.28zM189.81 297.21h4.28v1.54h-4.28zM189.81 302.24h4.28v1.54h-4.28zM189.81 303.92h4.28v1.54h-4.28zM189.81 307.27h4.28v1.54h-4.28zM189.81 317.33h4.28v1.54h-4.28zM189.81 325.72h4.28v1.54h-4.28zM189.81 345.84h4.28v1.54h-4.28zM194.09 210.00h4.28v1.54h-4.28zM194.09 216.71h4.28v1.54h-4.28zM194.09 221.74h4.28v1.54h-4.28zM194.09 223.42h4.28v1.54h-4.28zM194.09 240.19h4.28v1.54h-4.28zM194.09 250.25h4.28v1.54h-4.28zM194.09 258.64h4.28v1.54h-4.28zM194.09 260.31h4.28v1.54h-4.28zM194.09 263.67h4.28v1.54h-4.28zM194.09 265.34h4.28v1.54h-4.28zM194.09 277.08h4.28v1.54h-4.28zM194.09 280.44h4.28v1.54h-4.28zM194.09 287.15h4.28v1.54h-4.28zM194.09 292.18h4.28v1.54h-4.28zM194.09 312.30h4.28v1.54h-4.28zM194.09 339.14h4.28v1.54h-4.28zM194.09 342.49h4.28v1.54h-4.28zM194.09 355.91h4.28v1.54h-4.28zM194.09 360.94h4.28v1.54h-4.28zM198.37 213.35h4.28v1.54h-4.28zM198.37 230.12h4.28v1.54h-4.28zM198.37 233.48h4.28v1.54h-4.28zM198.37 235.16h4.28v1.54h-4.28zM198.37 246.90h4.28v1.54h-4.28zM198.37 255.28h4.28v1.54h-4.28zM198.37 256.96h4.28v1.54h-4.28zM198.37 258.64h4.28v1.54h-4.28zM198.37 268.70h4.28v1.54h-4.28zM198.37 272.05h4.28v1.54h-4.28zM198.37 273.73h4.28v1.54h-4.28zM198.37 278.76h4.28v1.54h-4.28zM198.37 297.21h4.28v1.54h-4.28zM198.37 310.62h4.28v1.54h-4.28zM198.37 330.75h4.28v1.54h-4.28zM198.37 332.43h4.28v1.54h-4.28zM198.37 350.88h4.28v1.54h-4.28zM198.37 357.58h4.28v1.54h-4.28zM198.37 367.65h4.28v1.54h-4.28zM202.66 215.03h4.28v1.54h-4.28zM202.66 216.71h4.28v1.54h-4.28zM202.66 223.42h4.28v1.54h-4.28zM202.66 225.09h4.28v1.54h-4.28zM202.66 245.22h4.28v1.54h-4.28zM202.66 246.90h4.28v1.54h-4.28zM202.66 251.93h4.28v1.54h-4.28zM202.66 268.70h4.28v1.54h-4.28zM202.66 275.41h4.28v1.54h-4.28zM202.66 277.08h4.28v1.54h-4.28zM202.66 360.94h4.28v1.54h-4.28zM206.94 231.80h4.28v1.54h-4.28zM206.94 253.60h4.28v1.54h-4.28zM206.94 256.96h4.28v1.54h-4.28zM206.94 263.67h4.28v1.54h-4.28zM206.94 267.02h4.28v1.54h-4.28zM206.94 317.33h4.28v1.54h-4.28zM206.94 322.36h4.28v1.54h-4.28zM206.94 325.72h4.28v1.54h-4.28zM206.94 327.40h4.28v1.54h-4.28zM206.94 342.49h4.28v1.54h-4.28zM206.94 347.52h4.28v1.54h-4.28zM211.22 218.39h4.28v1.54h-4.28zM211.22 228.45h4.28v1.54h-4.28zM211.22 233.48h4.28v1.54h-4.28zM211.22 251.93h4.28v1.54h-4.28zM211.22 265.34h4.28v1.54h-4.28zM211.22 285.47h4.28v1.54h-4.28zM211.22 295.53h4.28v1.54h-4.28zM211.22 322.36h4.28v1.54h-4.28zM211.22 325.72h4.28v1.54h-4.28zM211.22 347.52h4.28v1.54h-4.28zM211.22 349.20h4.28v1.54h-4.28zM215.50 256.96h4.28v1.54h-4.28zM215.50 261.99h4.28v1.54h-4.28zM215.50 263.67h4.28v1.54h-4.28zM215.50 290.50h4.28v1.54h-4.28zM215.50 292.18h4.28v1.54h-4.28zM215.50 305.59h4.28v1.54h-4.28zM215.50 315.66h4.28v1.54h-4.28zM215.50 335.78h4.28v1.54h-4.28zM215.50 360.94h4.28v1.54h-4.28zM219.79 213.35h4.28v1.54h-4.28zM219.79 223.42h4.28v1.54h-4.28zM219.79 225.09h4.28v1.54h-4.28zM219.79 236.83h4.28v1.54h-4.28zM219.79 240.19h4.28v1.54h-4.28zM219.79 243.54h4.28v1.54h-4.28zM219.79 287.15h4.28v1.54h-4.28zM219.79 293.85h4.28v1.54h-4.28zM219.79 297.21h4.28v1.54h-4.28zM219.79 313.98h4.28v1.54h-4.28zM219.79 317.33h4.28v1.54h-4.28zM219.79 320.69h4.28v1.54h-4.28zM219.79 322.36h4.28v1.54h-4.28zM219.79 324.04h4.28v1.54h-4.28zM219.79 340.81h4.28v1.54h-4.28zM219.79 352.55h4.28v1.54h-4.28zM219.79 354.23h4.28v1.54h-4.28zM219.79 364.29h4.28v1.54h-4.28zM219.79 369.32h4.28v1.54h-4.28zM224.07 221.74h4.28v1.54h-4.28zM224.07 231.80h4.28v1.54h-4.28zM224.07 235.16h4.28v1.54h-4.28zM224.07 246.90h4.28v1.54h-4.28zM224.07 261.99h4.28v1.54h-4.28zM224.07 265.34h4.28v1.54h-4.28zM224.07 268.70h4.28v1.54h-4.28zM224.07 272.05h4.28v1.54h-4.28zM224.07 280.44h4.28v1.54h-4.28zM224.07 282.11h4.28v1.54h-4.28zM224.07 288.82h4.28v1.54h-4.28zM224.07 290.50h4.28v1.54h-4.28zM224.07 315.66h4.28v1.54h-4.28zM224.07 319.01h4.28v1.54h-4.28zM224.07 324.04h4.28v1.54h-4.28zM224.07 327.40h4.28v1.54h-4.28zM224.07 335.78h4.28v1.54h-4.28zM224.07 337.46h4.28v1.54h-4.28zM224.07 352.55h4.28v1.54h-4.28zM224.07 359.26h4.28v1.54h-4.28zM224.07 367.65h4.28v1.54h-4.28zM228.35 216.71h4.28v1.54h-4.28zM228.35 236.83h4.28v1.54h-4.28zM228.35 267.02h4.28v1.54h-4.28zM228.35 273.73h4.28v1.54h-4.28zM228.35 293.85h4.28v1.54h-4.28zM228.35 302.24h4.28v1.54h-4.28zM228.35 317.33h4.28v1.54h-4.28zM228.35 325.72h4.28v1.54h-4.28zM228.35 332.43h4.28v1.54h-4.28zM228.35 342.49h4.28v1.54h-4.28zM228.35 344.17h4.28v1.54h-4.28zM228.35 345.84h4.28v1.54h-4.28zM232.63 221.74h4.28v1.54h-4.28zM232.63 230.12h4.28v1.54h-4.28zM232.63 236.83h4.28v1.54h-4.28zM232.63 243.54h4.28v1.54h-4.28zM232.63 245.22h4.28v1.54h-4.28zM232.63 248.57h4.28v1.54h-4.28zM232.63 250.25h4.28v1.54h-4.28zM232.63 251.93h4.28v1.54h-4.28zM232.63 263.67h4.28v1.54h-4.28zM232.63 265.34h4.28v1.54h-4.28zM232.63 272.05h4.28v1.54h-4.28zM232.63 287.15h4.28v1.54h-4.28zM232.63 308.95h4.28v1.54h-4.28zM232.63 312.30h4.28v1.54h-4.28zM232.63 320.69h4.28v1.54h-4.28zM232.63 327.40h4.28v1.54h-4.28zM232.63 349.20h4.28v1.54h-4.28zM236.92 235.16h4.28v1.54h-4.28zM236.92 243.54h4.28v1.54h-4.28zM236.92 246.90h4.28v1.54h-4.28zM236.92 248.57h4.28v1.54h-4.28zM236.92 256.96h4.28v1.54h-4.28zM236.92 280.44h4.28v1.54h-4.28zM236.92 285.47h4.28v1.54h-4.28zM236.92 287.15h4.28v1.54h-4.28zM236.92 292.18h4.28v1.54h-4.28zM236.92 295.53h4.28v1.54h-4.28zM236.92 298.89h4.28v1.54h-4.28zM236.92 315.66h4.28v1.54h-4.28zM236.92 330.75h4.28v1.54h-4.28zM236.92 357.58h4.28v1.54h-4.28z"/>
<path fill="#0f1d0e" d="M44.20 211.68h4.28v1.54h-4.28zM44.20 215.03h4.28v1.54h-4.28zM44.20 226.77h4.28v1.54h-4.28zM44.20 235.16h4.28v1.54h-4.28zM44.20 246.90h4.28v1.54h-4.28zM44.20 248.57h4.28v1.54h-4.28zM44.20 250.25h4.28v1.54h-4.28zM44.20 261.99h4.28v1.54h-4.28zM44.20 265.34h4.28v1.54h-4.28zM44.20 273.73h4.28v1.54h-4.28zM44.20 275.41h4.28v1.54h-4.28zM44.20 283.79h4.28v1.54h-4.28zM44.20 287.15h4.28v1.54h-4.28zM44.20 293.85h4.28v1.54h-4.28zM44.20 295.53h4.28v1.54h-4.28zM44.20 303.92h4.28v1.54h-4.28zM44.20 305.59h4.28v1.54h-4.28zM44.20 312.30h4.28v1.54h-4.28zM44.20 315.66h4.28v1.54h-4.28zM44.20 319.01h4.28v1.54h-4.28zM44.20 345.84h4.28v1.54h-4.28zM44.20 349.20h4.28v1.54h-4.28zM44.20 352.55h4.28v1.54h-4.28zM44.20 354.23h4.28v1.54h-4.28zM44.20 359.26h4.28v1.54h-4.28zM44.20 360.94h4.28v1.54h-4.28zM44.20 362.61h4.28v1.54h-4.28zM48.48 211.68h4.28v1.54h-4.28zM48.48 213.35h4.28v1.54h-4.28zM48.48 231.80h4.28v1.54h-4.28zM48.48 241.86h4.28v1.54h-4.28zM48.48 253.60h4.28v1.54h-4.28zM48.48 256.96h4.28v1.54h-4.28zM48.48 261.99h4.28v1.54h-4.28zM48.48 268.70h4.28v1.54h-4.28zM48.48 270.38h4.28v1.54h-4.28zM48.48 272.05h4.28v1.54h-4.28zM48.48 275.41h4.28v1.54h-4.28zM48.48 280.44h4.28v1.54h-4.28zM48.48 283.79h4.28v1.54h-4.28zM48.48 293.85h4.28v1.54h-4.28zM48.48 330.75h4.28v1.54h-4.28zM48.48 337.46h4.28v1.54h-4.28zM48.48 339.14h4.28v1.54h-4.28zM48.48 342.49h4.28v1.54h-4.28zM48.48 350.88h4.28v1.54h-4.28zM52.77 221.74h4.28v1.54h-4.28zM52.77 228.45h4.28v1.54h-4.28zM52.77 243.54h4.28v1.54h-4.28zM52.77 245.22h4.28v1.54h-4.28zM52.77 253.60h4.28v1.54h-4.28zM52.77 255.28h4.28v1.54h-4.28zM52.77 260.31h4.28v1.54h-4.28zM52.77 263.67h4.28v1.54h-4.28zM52.77 267.02h4.28v1.54h-4.28zM52.77 273.73h4.28v1.54h-4.28zM52.77 275.41h4.28v1.54h-4.28zM52.77 277.08h4.28v1.54h-4.28zM52.77 288.82h4.28v1.54h-4.28zM52.77 308.95h4.28v1.54h-4.28zM52.77 324.04h4.28v1.54h-4.28zM52.77 329.07h4.28v1.54h-4.28zM52.77 332.43h4.28v1.54h-4.28zM52.77 335.78h4.28v1.54h-4.28zM52.77 340.81h4.28v1.54h-4.28zM52.77 345.84h4.28v1.54h-4.28zM52.77 347.52h4.28v1.54h-4.28zM52.77 349.20h4.28v1.54h-4.28zM52.77 355.91h4.28v1.54h-4.28zM52.77 362.61h4.28v1.54h-4.28zM52.77 365.97h4.28v1.54h-4.28zM57.05 216.71h4.28v1.54h-4.28zM57.05 218.39h4.28v1.54h-4.28zM57.05 231.80h4.28v1.54h-4.28zM57.05 243.54h4.28v1.54h-4.28zM57.05 256.96h4.28v1.54h-4.28zM57.05 270.38h4.28v1.54h-4.28zM57.05 275.41h4.28v1.54h-4.28zM57.05 277.08h4.28v1.54h-4.28zM57.05 278.76h4.28v1.54h-4.28zM57.05 290.50h4.28v1.54h-4.28zM57.05 315.66h4.28v1.54h-4.28zM57.05 322.36h4.28v1.54h-4.28zM57.05 327.40h4.28v1.54h-4.28zM57.05 330.75h4.28v1.54h-4.28zM57.05 342.49h4.28v1.54h-4.28zM57.05 345.84h4.28v1.54h-4.28zM57.05 362.61h4.28v1.54h-4.28zM57.05 367.65h4.28v1.54h-4.28zM61.33 225.09h4.28v1.54h-4.28zM61.33 235.16h4.28v1.54h-4.28zM61.33 241.86h4.28v1.54h-4.28zM61.33 243.54h4.28v1.54h-4.28zM61.33 260.31h4.28v1.54h-4.28zM61.33 263.67h4.28v1.54h-4.28zM61.33 265.34h4.28v1.54h-4.28zM61.33 270.38h4.28v1.54h-4.28zM61.33 272.05h4.28v1.54h-4.28zM61.33 273.73h4.28v1.54h-4.28zM61.33 280.44h4.28v1.54h-4.28zM61.33 285.47h4.28v1.54h-4.28zM61.33 293.85h4.28v1.54h-4.28zM61.33 310.62h4.28v1.54h-4.28zM61.33 313.98h4.28v1.54h-4.28zM61.33 327.40h4.28v1.54h-4.28zM61.33 329.07h4.28v1.54h-4.28zM61.33 339.14h4.28v1.54h-4.28zM61.33 344.17h4.28v1.54h-4.28zM61.33 347.52h4.28v1.54h-4.28zM61.33 350.88h4.28v1.54h-4.28zM61.33 355.91h4.28v1.54h-4.28zM61.33 357.58h4.28v1.54h-4.28zM61.33 359.26h4.28v1.54h-4.28zM65.61 213.35h4.28v1.54h-4.28zM65.61 216.71h4.28v1.54h-4.28zM65.61 218.39h4.28v1.54h-4.28zM65.61 220.06h4.28v1.54h-4.28zM65.61 235.16h4.28v1.54h-4.28zM65.61 256.96h4.28v1.54h-4.28zM65.61 265.34h4.28v1.54h-4.28zM65.61 285.47h4.28v1.54h-4.28zM65.61 315.66h4.28v1.54h-4.28zM65.61 329.07h4.28v1.54h-4.28zM65.61 332.43h4.28v1.54h-4.28zM65.61 352.55h4.28v1.54h-4.28zM65.61 357.58h4.28v1.54h-4.28zM65.61 360.94h4.28v1.54h-4.28zM69.90 233.48h4.28v1.54h-4.28zM69.90 243.54h4.28v1.54h-4.28zM69.90 245.22h4.28v1.54h-4.28zM69.90 267.02h4.28v1.54h-4.28zM69.90 272.05h4.28v1.54h-4.28zM69.90 285.47h4.28v1.54h-4.28zM69.90 303.92h4.28v1.54h-4.28zM69.90 307.27h4.28v1.54h-4.28zM69.90 308.95h4.28v1.54h-4.28zM69.90 315.66h4.28v1.54h-4.28zM69.90 317.33h4.28v1.54h-4.28zM69.90 332.43h4.28v1.54h-4.28zM69.90 334.10h4.28v1.54h-4.28zM69.90 342.49h4.28v1.54h-4.28zM69.90 357.58h4.28v1.54h-4.28zM69.90 365.97h4.28v1.54h-4.28zM74.18 231.80h4.28v1.54h-4.28zM74.18 235.16h4.28v1.54h-4.28zM74.18 241.86h4.28v1.54h-4.28zM74.18 246.90h4.28v1.54h-4.28zM74.18 250.25h4.28v1.54h-4.28zM74.18 251.93h4.28v1.54h-4.28zM74.18 253.60h4.28v1.54h-4.28zM74.18 256.96h4.28v1.54h-4.28zM74.18 260.31h4.28v1.54h-4.28zM74.18 263.67h4.28v1.54h-4.28zM74.18 265.34h4.28v1.54h-4.28zM74.18 268.70h4.28v1.54h-4.28zM74.18 278.76h4.28v1.54h-4.28zM74.18 287.15h4.28v1.54h-4.28zM74.18 288.82h4.28v1.54h-4.28zM74.18 292.18h4.28v1.54h-4.28zM74.18 305.59h4.28v1.54h-4.28zM74.18 324.04h4.28v1.54h-4.28zM74.18 344.17h4.28v1.54h-4.28zM74.18 360.94h4.28v1.54h-4.28zM74.18 364.29h4.28v1.54h-4.28zM78.46 210.00h4.28v1.54h-4.28zM78.46 221.74h4.28v1.54h-4.28zM78.46 230.12h4.28v1.54h-4.28zM78.46 238.51h4.28v1.54h-4.28zM78.46 245.22h4.28v1.54h-4.28zM78.46 246.90h4.28v1.54h-4.28zM78.46 255.28h4.28v1.54h-4.28zM78.46 258.64h4.28v1.54h-4.28zM78.46 265.34h4.28v1.54h-4.28zM78.46 268.70h4.28v1.54h-4.28zM78.46 270.38h4.28v1.54h-4.28zM78.46 282.11h4.28v1.54h-4.28zM78.46 329.07h4.28v1.54h-4.28zM78.46 334.10h4.28v1.54h-4.28zM78.46 344.17h4.28v1.54h-4.28zM78.46 345.84h4.28v1.54h-4.28zM78.46 349.20h4.28v1.54h-4.28zM78.46 354.23h4.28v1.54h-4.28zM82.74 220.06h4.28v1.54h-4.28zM82.74 223.42h4.28v1.54h-4.28zM82.74 225.09h4.28v1.54h-4.28zM82.74 226.77h4.28v1.54h-4.28zM82.74 238.51h4.28v1.54h-4.28zM82.74 241.86h4.28v1.54h-4.28zM82.74 243.54h4.28v1.54h-4.28zM82.74 268.70h4.28v1.54h-4.28zM82.74 280.44h4.28v1.54h-4.28zM82.74 285.47h4.28v1.54h-4.28zM82.74 290.50h4.28v1.54h-4.28zM82.74 312.30h4.28v1.54h-4.28zM82.74 313.98h4.28v1.54h-4.28zM82.74 320.69h4.28v1.54h-4.28zM82.74 324.04h4.28v1.54h-4.28zM82.74 325.72h4.28v1.54h-4.28zM82.74 327.40h4.28v1.54h-4.28zM82.74 337.46h4.28v1.54h-4.28zM82.74 340.81h4.28v1.54h-4.28zM82.74 342.49h4.28v1.54h-4.28zM82.74 345.84h4.28v1.54h-4.28zM82.74 354.23h4.28v1.54h-4.28zM82.74 362.61h4.28v1.54h-4.28zM82.74 369.32h4.28v1.54h-4.28zM87.03 215.03h4.28v1.54h-4.28zM87.03 216.71h4.28v1.54h-4.28zM87.03 231.80h4.28v1.54h-4.28zM87.03 261.99h4.28v1.54h-4.28zM87.03 263.67h4.28v1.54h-4.28zM87.03 265.34h4.28v1.54h-4.28zM87.03 287.15h4.28v1.54h-4.28zM87.03 290.50h4.28v1.54h-4.28zM87.03 325.72h4.28v1.54h-4.28zM87.03 329.07h4.28v1.54h-4.28zM87.03 339.14h4.28v1.54h-4.28zM87.03 342.49h4.28v1.54h-4.28zM87.03 347.52h4.28v1.54h-4.28zM87.03 350.88h4.28v1.54h-4.28zM87.03 352.55h4.28v1.54h-4.28zM91.31 210.00h4.28v1.54h-4.28zM91.31 216.71h4.28v1.54h-4.28zM91.31 223.42h4.28v1.54h-4.28zM91.31 228.45h4.28v1.54h-4.28zM91.31 230.12h4.28v1.54h-4.28zM91.31 231.80h4.28v1.54h-4.28zM91.31 233.48h4.28v1.54h-4.28zM91.31 246.90h4.28v1.54h-4.28zM91.31 255.28h4.28v1.54h-4.28zM91.31 256.96h4.28v1.54h-4.28zM91.31 270.38h4.28v1.54h-4.28zM91.31 272.05h4.28v1.54h-4.28zM91.31 282.11h4.28v1.54h-4.28zM91.31 293.85h4.28v1.54h-4.28zM91.31 307.27h4.28v1.54h-4.28zM91.31 317.33h4.28v1.54h-4.28zM91.31 319.01h4.28v1.54h-4.28zM91.31 325.72h4.28v1.54h-4.28zM91.31 330.75h4.28v1.54h-4.28zM91.31 337.46h4.28v1.54h-4.28zM91.31 347.52h4.28v1.54h-4.28zM91.31 357.58h4.28v1.54h-4.28zM91.31 359.26h4.28v1.54h-4.28zM91.31 364.29h4.28v1.54h-4.28zM91.31 365.97h4.28v1.54h-4.28zM91.31 367.65h4.28v1.54h-4.28zM95.59 215.03h4.28v1.54h-4.28zM95.59 216.71h4.28v1.54h-4.28zM95.59 221.74h4.28v1.54h-4.28zM95.59 230.12h4.28v1.54h-4.28zM95.59 231.80h4.28v1.54h-4.28zM95.59 241.86h4.28v1.54h-4.28zM95.59 245.22h4.28v1.54h-4.28zM95.59 255.28h4.28v1.54h-4.28zM95.59 267.02h4.28v1.54h-4.28zM95.59 272.05h4.28v1.54h-4.28zM95.59 277.08h4.28v1.54h-4.28zM95.59 282.11h4.28v1.54h-4.28zM95.59 287.15h4.28v1.54h-4.28zM95.59 303.92h4.28v1.54h-4.28zM95.59 315.66h4.28v1.54h-4.28zM95.59 317.33h4.28v1.54h-4.28zM95.59 337.46h4.28v1.54h-4.28zM95.59 342.49h4.28v1.54h-4.28zM95.59 344.17h4.28v1.54h-4.28zM95.59 350.88h4.28v1.54h-4.28zM95.59 362.61h4.28v1.54h-4.28zM99.87 210.00h4.28v1.54h-4.28zM99.87 211.68h4.28v1.54h-4.28zM99.87 216.71h4.28v1.54h-4.28zM99.87 230.12h4.28v1.54h-4.28zM99.87 231.80h4.28v1.54h-4.28zM99.87 243.54h4.28v1.54h-4.28zM99.87 248.57h4.28v1.54h-4.28zM99.87 260.31h4.28v1.54h-4.28zM99.87 261.99h4.28v1.54h-4.28zM99.87 272.05h4.28v1.54h-4.28zM99.87 273.73h4.28v1.54h-4.28zM99.87 277.08h4.28v1.54h-4.28zM99.87 282.11h4.28v1.54h-4.28zM99.87 285.47h4.28v1.54h-4.28zM99.87 287.15h4.28v1.54h-4.28zM99.87 288.82h4.28v1.54h-4.28zM99.87 290.50h4.28v1.54h-4.28zM99.87 315.66h4.28v1.54h-4.28zM99.87 317.33h4.28v1.54h-4.28zM99.87 322.36h4.28v1.54h-4.28zM99.87 339.14h4.28v1.54h-4.28zM99.87 340.81h4.28v1.54h-4.28zM99.87 349.20h4.28v1.54h-4.28zM99.87 359.26h4.28v1.54h-4.28zM99.87 360.94h4.28v1.54h-4.28zM99.87 362.61h4.28v1.54h-4.28zM99.87 369.32h4.28v1.54h-4.28zM104.16 216.71h4.28v1.54h-4.28zM104.16 220.06h4.28v1.54h-4.28zM104.16 223.42h4.28v1.54h-4.28zM104.16 230.12h4.28v1.54h-4.28zM104.16 235.16h4.28v1.54h-4.28zM104.16 238.51h4.28v1.54h-4.28zM104.16 243.54h4.28v1.54h-4.28zM104.16 245.22h4.28v1.54h-4.28zM104.16 255.28h4.28v1.54h-4.28zM104.16 263.67h4.28v1.54h-4.28zM104.16 285.47h4.28v1.54h-4.28zM104.16 288.82h4.28v1.54h-4.28zM104.16 292.18h4.28v1.54h-4.28zM104.16 310.62h4.28v1.54h-4.28zM104.16 337.46h4.28v1.54h-4.28zM104.16 347.52h4.28v1.54h-4.28zM104.16 359.26h4.28v1.54h-4.28zM104.16 369.32h4.28v1.54h-4.28zM108.44 215.03h4.28v1.54h-4.28zM108.44 218.39h4.28v1.54h-4.28zM108.44 230.12h4.28v1.54h-4.28zM108.44 241.86h4.28v1.54h-4.28zM108.44 261.99h4.28v1.54h-4.28zM108.44 265.34h4.28v1.54h-4.28zM108.44 277.08h4.28v1.54h-4.28zM108.44 293.85h4.28v1.54h-4.28zM108.44 308.95h4.28v1.54h-4.28zM108.44 334.10h4.28v1.54h-4.28zM108.44 360.94h4.28v1.54h-4.28zM112.72 210.00h4.28v1.54h-4.28zM112.72 233.48h4.28v1.54h-4.28zM112.72 241.86h4.28v1.54h-4.28zM112.72 253.60h4.28v1.54h-4.28zM112.72 261.99h4.28v1.54h-4.28zM112.72 290.50h4.28v1.54h-4.28zM112.72 292.18h4.28v1.54h-4.28zM112.72 305.59h4.28v1.54h-4.28zM112.72 313.98h4.28v1.54h-4.28zM112.72 319.01h4.28v1.54h-4.28zM112.72 339.14h4.28v1.54h-4.28zM112.72 347.52h4.28v1.54h-4.28zM112.72 355.91h4.28v1.54h-4.28zM117.00 235.16h4.28v1.54h-4.28zM117.00 250.25h4.28v1.54h-4.28zM117.00 258.64h4.28v1.54h-4.28zM117.00 265.34h4.28v1.54h-4.28zM117.00 280.44h4.28v1.54h-4.28zM117.00 285.47h4.28v1.54h-4.28zM117.00 293.85h4.28v1.54h-4.28zM117.00 305.59h4.28v1.54h-4.28zM117.00 307.27h4.28v1.54h-4.28zM117.00 310.62h4.28v1.54h-4.28zM117.00 315.66h4.28v1.54h-4.28zM117.00 317.33h4.28v1.54h-4.28zM117.00 330.75h4.28v1.54h-4.28zM117.00 340.81h4.28v1.54h-4.28zM117.00 362.61h4.28v1.54h-4.28zM121.29 210.00h4.28v1.54h-4.28zM121.29 211.68h4.28v1.54h-4.28zM121.29 215.03h4.28v1.54h-4.28zM121.29 220.06h4.28v1.54h-4.28zM121.29 221.74h4.28v1.54h-4.28zM121.29 246.90h4.28v1.54h-4.28zM121.29 250.25h4.28v1.54h-4.28zM121.29 251.93h4.28v1.54h-4.28zM121.29 258.64h4.28v1.54h-4.28zM121.29 260.31h4.28v1.54h-4.28zM121.29 265.34h4.28v1.54h-4.28zM121.29 267.02h4.28v1.54h-4.28zM121.29 285.47h4.28v1.54h-4.28zM121.29 293.85h4.28v1.54h-4.28zM121.29 300.56h4.28v1.54h-4.28zM121.29 310.62h4.28v1.54h-4.28zM121.29 315.66h4.28v1.54h-4.28zM121.29 334.10h4.28v1.54h-4.28zM121.29 345.84h4.28v1.54h-4.28zM121.29 349.20h4.28v1.54h-4.28zM121.29 350.88h4.28v1.54h-4.28zM121.29 359.26h4.28v1.54h-4.28zM121.29 362.61h4.28v1.54h-4.28zM121.29 369.32h4.28v1.54h-4.28zM125.57 216.71h4.28v1.54h-4.28zM125.57 241.86h4.28v1.54h-4.28zM125.57 260.31h4.28v1.54h-4.28zM125.57 270.38h4.28v1.54h-4.28zM125.57 272.05h4.28v1.54h-4.28zM125.57 273.73h4.28v1.54h-4.28zM125.57 288.82h4.28v1.54h-4.28zM125.57 302.24h4.28v1.54h-4.28zM125.57 305.59h4.28v1.54h-4.28zM125.57 308.95h4.28v1.54h-4.28zM125.57 313.98h4.28v1.54h-4.28zM125.57 317.33h4.28v1.54h-4.28zM125.57 330.75h4.28v1.54h-4.28zM125.57 340.81h4.28v1.54h-4.28zM125.57 355.91h4.28v1.54h-4.28zM125.57 369.32h4.28v1.54h-4.28zM129.85 210.00h4.28v1.54h-4.28zM129.85 225.09h4.28v1.54h-4.28zM129.85 226.77h4.28v1.54h-4.28zM129.85 228.45h4.28v1.54h-4.28zM129.85 235.16h4.28v1.54h-4.28zM129.85 241.86h4.28v1.54h-4.28zM129.85 250.25h4.28v1.54h-4.28zM129.85 278.76h4.28v1.54h-4.28zM129.85 282.11h4.28v1.54h-4.28zM129.85 290.50h4.28v1.54h-4.28zM129.85 297.21h4.28v1.54h-4.28zM129.85 317.33h4.28v1.54h-4.28zM129.85 325.72h4.28v1.54h-4.28zM129.85 332.43h4.28v1.54h-4.28zM129.85 337.46h4.28v1.54h-4.28zM129.85 344.17h4.28v1.54h-4.28zM129.85 347.52h4.28v1.54h-4.28zM129.85 355.91h4.28v1.54h-4.28zM134.13 211.68h4.28v1.54h-4.28zM134.13 213.35h4.28v1.54h-4.28zM134.13 216.71h4.28v1.54h-4.28zM134.13 220.06h4.28v1.54h-4.28zM134.13 236.83h4.28v1.54h-4.28zM134.13 243.54h4.28v1.54h-4.28zM134.13 248.57h4.28v1.54h-4.28zM134.13 251.93h4.28v1.54h-4.28zM134.13 265.34h4.28v1.54h-4.28zM134.13 277.08h4.28v1.54h-4.28zM134.13 278.76h4.28v1.54h-4.28zM134.13 280.44h4.28v1.54h-4.28zM134.13 283.79h4.28v1.54h-4.28zM134.13 292.18h4.28v1.54h-4.28zM134.13 295.53h4.28v1.54h-4.28zM134.13 300.56h4.28v1.54h-4.28zM134.13 317.33h4.28v1.54h-4.28zM134.13 329.07h4.28v1.54h-4.28zM134.13 335.78h4.28v1.54h-4.28zM134.13 337.46h4.28v1.54h-4.28zM134.13 342.49h4.28v1.54h-4.28zM134.13 367.65h4.28v1.54h-4.28zM134.13 369.32h4.28v1.54h-4.28zM138.42 210.00h4.28v1.54h-4.28zM138.42 213.35h4.28v1.54h-4.28zM138.42 233.48h4.28v1.54h-4.28zM138.42 273.73h4.28v1.54h-4.28zM138.42 275.41h4.28v1.54h-4.28zM138.42 313.98h4.28v1.54h-4.28zM138.42 315.66h4.28v1.54h-4.28zM138.42 327.40h4.28v1.54h-4.28zM138.42 330.75h4.28v1.54h-4.28zM138.42 332.43h4.28v1.54h-4.28zM138.42 345.84h4.28v1.54h-4.28zM138.42 350.88h4.28v1.54h-4.28zM138.42 352.55h4.28v1.54h-4.28zM138.42 359.26h4.28v1.54h-4.28zM142.70 216.71h4.28v1.54h-4.28zM142.70 218.39h4.28v1.54h-4.28zM142.70 231.80h4.28v1.54h-4.28zM142.70 235.16h4.28v1.54h-4.28zM142.70 236.83h4.28v1.54h-4.28zM142.70 245.22h4.28v1.54h-4.28zM142.70 265.34h4.28v1.54h-4.28zM142.70 282.11h4.28v1.54h-4.28zM142.70 283.79h4.28v1.54h-4.28zM142.70 285.47h4.28v1.54h-4.28zM142.70 322.36h4.28v1.54h-4.28zM142.70 329.07h4.28v1.54h-4.28zM142.70 330.75h4.28v1.54h-4.28zM142.70 334.10h4.28v1.54h-4.28zM142.70 337.46h4.28v1.54h-4.28zM142.70 342.49h4.28v1.54h-4.28zM142.70 344.17h4.28v1.54h-4.28zM142.70 345.84h4.28v1.54h-4.28zM142.70 350.88h4.28v1.54h-4.28zM142.70 362.61h4.28v1.54h-4.28zM146.98 221.74h4.28v1.54h-4.28zM146.98 253.60h4.28v1.54h-4.28zM146.98 256.96h4.28v1.54h-4.28zM146.98 258.64h4.28v1.54h-4.28zM146.98 272.05h4.28v1.54h-4.28zM146.98 277.08h4.28v1.54h-4.28zM146.98 278.76h4.28v1.54h-4.28zM146.98 290.50h4.28v1.54h-4.28zM146.98 305.59h4.28v1.54h-4.28zM146.98 307.27h4.28v1.54h-4.28zM146.98 327.40h4.28v1.54h-4.28zM146.98 335.78h4.28v1.54h-4.28zM146.98 342.49h4.28v1.54h-4.28zM146.98 350.88h4.28v1.54h-4.28zM146.98 354.23h4.28v1.54h-4.28zM146.98 364.29h4.28v1.54h-4.28zM151.27 216.71h4.28v1.54h-4.28zM151.27 218.39h4.28v1.54h-4.28zM151.27 226.77h4.28v1.54h-4.28zM151.27 246.90h4.28v1.54h-4.28zM151.27 248.57h4.28v1.54h-4.28zM151.27 256.96h4.28v1.54h-4.28zM151.27 258.64h4.28v1.54h-4.28zM151.27 261.99h4.28v1.54h-4.28zM151.27 267.02h4.28v1.54h-4.28zM151.27 272.05h4.28v1.54h-4.28zM151.27 273.73h4.28v1.54h-4.28zM151.27 282.11h4.28v1.54h-4.28zM151.27 290.50h4.28v1.54h-4.28zM151.27 297.21h4.28v1.54h-4.28zM151.27 298.89h4.28v1.54h-4.28zM151.27 302.24h4.28v1.54h-4.28zM151.27 305.59h4.28v1.54h-4.28zM151.27 332.43h4.28v1.54h-4.28zM151.27 334.10h4.28v1.54h-4.28zM151.27 342.49h4.28v1.54h-4.28zM151.27 344.17h4.28v1.54h-4.28zM151.27 347.52h4.28v1.54h-4.28zM151.27 352.55h4.28v1.54h-4.28zM155.55 226.77h4.28v1.54h-4.28zM155.55 241.86h4.28v1.54h-4.28zM155.55 243.54h4.28v1.54h-4.28zM155.55 251.93h4.28v1.54h-4.28zM155.55 253.60h4.28v1.54h-4.28zM155.55 293.85h4.28v1.54h-4.28zM155.55 302.24h4.28v1.54h-4.28zM155.55 303.92h4.28v1.54h-4.28zM155.55 308.95h4.28v1.54h-4.28zM155.55 310.62h4.28v1.54h-4.28zM155.55 315.66h4.28v1.54h-4.28zM155.55 352.55h4.28v1.54h-4.28zM155.55 355.91h4.28v1.54h-4.28zM155.55 359.26h4.28v1.54h-4.28zM159.83 210.00h4.28v1.54h-4.28zM159.83 220.06h4.28v1.54h-4.28zM159.83 243.54h4.28v1.54h-4.28zM159.83 251.93h4.28v1.54h-4.28zM159.83 277.08h4.28v1.54h-4.28zM159.83 293.85h4.28v1.54h-4.28zM159.83 330.75h4.28v1.54h-4.28zM159.83 332.43h4.28v1.54h-4.28zM159.83 334.10h4.28v1.54h-4.28zM159.83 355.91h4.28v1.54h-4.28zM159.83 359.26h4.28v1.54h-4.28zM164.11 216.71h4.28v1.54h-4.28zM164.11 220.06h4.28v1.54h-4.28zM164.11 226.77h4.28v1.54h-4.28zM164.11 273.73h4.28v1.54h-4.28zM164.11 275.41h4.28v1.54h-4.28zM164.11 287.15h4.28v1.54h-4.28zM164.11 288.82h4.28v1.54h-4.28zM164.11 295.53h4.28v1.54h-4.28zM164.11 298.89h4.28v1.54h-4.28zM164.11 335.78h4.28v1.54h-4.28zM164.11 349.20h4.28v1.54h-4.28zM164.11 352.55h4.28v1.54h-4.28zM164.11 362.61h4.28v1.54h-4.28zM168.40 210.00h4.28v1.54h-4.28zM168.40 215.03h4.28v1.54h-4.28zM168.40 216.71h4.28v1.54h-4.28zM168.40 240.19h4.28v1.54h-4.28zM168.40 243.54h4.28v1.54h-4.28zM168.40 245.22h4.28v1.54h-4.28zM168.40 260.31h4.28v1.54h-4.28zM168.40 268.70h4.28v1.54h-4.28zM168.40 273.73h4.28v1.54h-4.28zM168.40 275.41h4.28v1.54h-4.28zM168.40 292.18h4.28v1.54h-4.28zM168.40 298.89h4.28v1.54h-4.28zM168.40 317.33h4.28v1.54h-4.28zM168.40 322.36h4.28v1.54h-4.28zM168.40 350.88h4.28v1.54h-4.28zM168.40 362.61h4.28v1.54h-4.28zM172.68 261.99h4.28v1.54h-4.28zM172.68 310.62h4.28v1.54h-4.28zM172.68 317.33h4.28v1.54h-4.28zM172.68 359.26h4.28v1.54h-4.28zM176.96 230.12h4.28v1.54h-4.28zM176.96 241.86h4.28v1.54h-4.28zM176.96 261.99h4.28v1.54h-4.28zM176.96 267.02h4.28v1.54h-4.28zM176.96 268.70h4.28v1.54h-4.28zM176.96 272.05h4.28v1.54h-4.28zM176.96 292.18h4.28v1.54h-4.28zM176.96 324.04h4.28v1.54h-4.28zM176.96 349.20h4.28v1.54h-4.28zM176.96 360.94h4.28v1.54h-4.28zM176.96 364.29h4.28v1.54h-4.28zM181.24 210.00h4.28v1.54h-4.28zM181.24 221.74h4.28v1.54h-4.28zM181.24 226.77h4.28v1.54h-4.28zM181.24 228.45h4.28v1.54h-4.28zM181.24 235.16h4.28v1.54h-4.28zM181.24 240.19h4.28v1.54h-4.28zM181.24 256.96h4.28v1.54h-4.28zM181.24 263.67h4.28v1.54h-4.28zM181.24 272.05h4.28v1.54h-4.28zM181.24 278.76h4.28v1.54h-4.28zM181.24 302.24h4.28v1.54h-4.28zM181.24 320.69h4.28v1.54h-4.28zM181.24 327.40h4.28v1.54h-4.28zM181.24 342.49h4.28v1.54h-4.28zM181.24 354.23h4.28v1.54h-4.28zM181.24 355.91h4.28v1.54h-4.28zM181.24 367.65h4.28v1.54h-4.28zM185.53 223.42h4.28v1.54h-4.28zM185.53 226.77h4.28v1.54h-4.28zM185.53 258.64h4.28v1.54h-4.28zM185.53 260.31h4.28v1.54h-4.28zM185.53 261.99h4.28v1.54h-4.28zM185.53 263.67h4.28v1.54h-4.28zM185.53 265.34h4.28v1.54h-4.28zM185.53 270.38h4.28v1.54h-4.28zM185.53 273.73h4.28v1.54h-4.28zM185.53 287.15h4.28v1.54h-4.28zM185.53 288.82h4.28v1.54h-4.28zM185.53 302.24h4.28v1.54h-4.28zM185.53 334.10h4.28v1.54h-4.28zM185.53 335.78h4.28v1.54h-4.28zM185.53 342.49h4.28v1.54h-4.28zM185.53 352.55h4.28v1.54h-4.28zM185.53 354.23h4.28v1.54h-4.28zM185.53 369.32h4.28v1.54h-4.28zM189.81 225.09h4.28v1.54h-4.28zM189.81 235.16h4.28v1.54h-4.28zM189.81 236.83h4.28v1.54h-4.28zM189.81 241.86h4.28v1.54h-4.28zM189.81 255.28h4.28v1.54h-4.28zM189.81 261.99h4.28v1.54h-4.28zM189.81 277.08h4.28v1.54h-4.28zM189.81 290.50h4.28v1.54h-4.28zM189.81 292.18h4.28v1.54h-4.28zM189.81 293.85h4.28v1.54h-4.28zM189.81 300.56h4.28v1.54h-4.28zM189.81 313.98h4.28v1.54h-4.28zM189.81 319.01h4.28v1.54h-4.28zM189.81 329.07h4.28v1.54h-4.28zM189.81 362.61h4.28v1.54h-4.28zM194.09 211.68h4.28v1.54h-4.28zM194.09 251.93h4.28v1.54h-4.28zM194.09 256.96h4.28v1.54h-4.28zM194.09 270.38h4.28v1.54h-4.28zM194.09 285.47h4.28v1.54h-4.28zM194.09 293.85h4.28v1.54h-4.28zM194.09 308.95h4.28v1.54h-4.28zM194.09 319.01h4.28v1.54h-4.28zM194.09 347.52h4.28v1.54h-4.28zM194.09 365.97h4.28v1.54h-4.28zM198.37 231.80h4.28v1.54h-4.28zM198.37 250.25h4.28v1.54h-4.28zM198.37 260.31h4.28v1.54h-4.28zM198.37 270.38h4.28v1.54h-4.28zM198.37 287.15h4.28v1.54h-4.28zM198.37 295.53h4.28v1.54h-4.28zM198.37 305.59h4.28v1.54h-4.28zM198.37 320.69h4.28v1.54h-4.28zM198.37 325.72h4.28v1.54h-4.28zM198.37 327.40h4.28v1.54h-4.28zM198.37 329.07h4.28v1.54h-4.28zM198.37 342.49h4.28v1.54h-4.28zM198.37 345.84h4.28v1.54h-4.28zM198.37 352.55h4.28v1.54h-4.28zM198.37 355.91h4.28v1.54h-4.28zM198.37 359.26h4.28v1.54h-4.28zM202.66 243.54h4.28v1.54h-4.28zM202.66 298.89h4.28v1.54h-4.28zM202.66 303.92h4.28v1.54h-4.28zM202.66 312.30h4.28v1.54h-4.28zM202.66 313.98h4.28v1.54h-4.28zM202.66 315.66h4.28v1.54h-4.28zM202.66 324.04h4.28v1.54h-4.28zM202.66 325.72h4.28v1.54h-4.28zM202.66 332.43h4.28v1.54h-4.28zM202.66 337.46h4.28v1.54h-4.28zM202.66 340.81h4.28v1.54h-4.28zM202.66 359.26h4.28v1.54h-4.28zM202.66 362.61h4.28v1.54h-4.28zM206.94 246.90h4.28v1.54h-4.28zM206.94 250.25h4.28v1.54h-4.28zM206.94 261.99h4.28v1.54h-4.28zM206.94 285.47h4.28v1.54h-4.28zM206.94 290.50h4.28v1.54h-4.28zM206.94 307.27h4.28v1.54h-4.28zM206.94 315.66h4.28v1.54h-4.28zM206.94 320.69h4.28v1.54h-4.28zM206.94 332.43h4.28v1.54h-4.28zM206.94 365.97h4.28v1.54h-4.28zM211.22 213.35h4.28v1.54h-4.28zM211.22 225.09h4.28v1.54h-4.28zM211.22 243.54h4.28v1.54h-4.28zM211.22 245.22h4.28v1.54h-4.28zM211.22 250.25h4.28v1.54h-4.28zM211.22 260.31h4.28v1.54h-4.28zM211.22 268.70h4.28v1.54h-4.28zM211.22 273.73h4.28v1.54h-4.28zM211.22 277.08h4.28v1.54h-4.28zM211.22 293.85h4.28v1.54h-4.28zM211.22 342.49h4.28v1.54h-4.28zM211.22 350.88h4.28v1.54h-4.28zM211.22 357.58h4.28v1.54h-4.28zM215.50 210.00h4.28v1.54h-4.28zM215.50 223.42h4.28v1.54h-4.28zM215.50 225.09h4.28v1.54h-4.28zM215.50 226.77h4.28v1.54h-4.28zM215.50 248.57h4.28v1.54h-4.28zM215.50 273.73h4.28v1.54h-4.28zM215.50 275.41h4.28v1.54h-4.28zM215.50 283.79h4.28v1.54h-4.28zM215.50 293.85h4.28v1.54h-4.28zM215.50 297.21h4.28v1.54h-4.28zM215.50 298.89h4.28v1.54h-4.28zM215.50 303.92h4.28v1.54h-4.28zM215.50 310.62h4.28v1.54h-4.28zM215.50 319.01h4.28v1.54h-4.28zM215.50 350.88h4.28v1.54h-4.28zM219.79 210.00h4.28v1.54h-4.28zM219.79 215.03h4.28v1.54h-4.28zM219.79 218.39h4.28v1.54h-4.28zM219.79 251.93h4.28v1.54h-4.28zM219.79 258.64h4.28v1.54h-4.28zM219.79 261.99h4.28v1.54h-4.28zM219.79 263.67h4.28v1.54h-4.28zM219.79 265.34h4.28v1.54h-4.28zM219.79 283.79h4.28v1.54h-4.28zM219.79 303.92h4.28v1.54h-4.28zM219.79 307.27h4.28v1.54h-4.28zM219.79 335.78h4.28v1.54h-4.28zM219.79 342.49h4.28v1.54h-4.28zM219.79 347.52h4.28v1.54h-4.28zM219.79 357.58h4.28v1.54h-4.28zM219.79 360.94h4.28v1.54h-4.28zM219.79 362.61h4.28v1.54h-4.28zM219.79 367.65h4.28v1.54h-4.28zM224.07 210.00h4.28v1.54h-4.28zM224.07 213.35h4.28v1.54h-4.28zM224.07 215.03h4.28v1.54h-4.28zM224.07 223.42h4.28v1.54h-4.28zM224.07 226.77h4.28v1.54h-4.28zM224.07 238.51h4.28v1.54h-4.28zM224.07 241.86h4.28v1.54h-4.28zM224.07 263.67h4.28v1.54h-4.28zM224.07 270.38h4.28v1.54h-4.28zM224.07 273.73h4.28v1.54h-4.28zM224.07 275.41h4.28v1.54h-4.28zM224.07 277.08h4.28v1.54h-4.28zM224.07 298.89h4.28v1.54h-4.28zM224.07 300.56h4.28v1.54h-4.28zM224.07 303.92h4.28v1.54h-4.28zM224.07 305.59h4.28v1.54h-4.28zM224.07 317.33h4.28v1.54h-4.28zM224.07 330.75h4.28v1.54h-4.28zM224.07 344.17h4.28v1.54h-4.28zM224.07 345.84h4.28v1.54h-4.28zM224.07 347.52h4.28v1.54h-4.28zM224.07 355.91h4.28v1.54h-4.28zM224.07 362.61h4.28v1.54h-4.28zM228.35 218.39h4.28v1.54h-4.28zM228.35 228.45h4.28v1.54h-4.28zM228.35 241.86h4.28v1.54h-4.28zM228.35 243.54h4.28v1.54h-4.28zM228.35 253.60h4.28v1.54h-4.28zM228.35 255.28h4.28v1.54h-4.28zM228.35 256.96h4.28v1.54h-4.28zM228.35 258.64h4.28v1.54h-4.28zM228.35 303.92h4.28v1.54h-4.28zM228.35 312.30h4.28v1.54h-4.28zM228.35 313.98h4.28v1.54h-4.28zM228.35 322.36h4.28v1.54h-4.28zM228.35 330.75h4.28v1.54h-4.28zM228.35 349.20h4.28v1.54h-4.28zM228.35 354.23h4.28v1.54h-4.28zM228.35 355.91h4.28v1.54h-4.28zM228.35 360.94h4.28v1.54h-4.28zM232.63 210.00h4.28v1.54h-4.28zM232.63 211.68h4.28v1.54h-4.28zM232.63 213.35h4.28v1.54h-4.28zM232.63 235.16h4.28v1.54h-4.28zM232.63 238.51h4.28v1.54h-4.28zM232.63 240.19h4.28v1.54h-4.28zM232.63 253.60h4.28v1.54h-4.28zM232.63 256.96h4.28v1.54h-4.28zM232.63 267.02h4.28v1.54h-4.28zM232.63 268.70h4.28v1.54h-4.28zM232.63 273.73h4.28v1.54h-4.28zM232.63 285.47h4.28v1.54h-4.28zM232.63 303.92h4.28v1.54h-4.28zM232.63 305.59h4.28v1.54h-4.28zM232.63 310.62h4.28v1.54h-4.28zM232.63 325.72h4.28v1.54h-4.28zM232.63 329.07h4.28v1.54h-4.28zM232.63 340.81h4.28v1.54h-4.28zM236.92 215.03h4.28v1.54h-4.28zM236.92 228.45h4.28v1.54h-4.28zM236.92 230.12h4.28v1.54h-4.28zM236.92 233.48h4.28v1.54h-4.28zM236.92 297.21h4.28v1.54h-4.28zM236.92 302.24h4.28v1.54h-4.28zM236.92 303.92h4.28v1.54h-4.28zM236.92 308.95h4.28v1.54h-4.28zM236.92 312.30h4.28v1.54h-4.28zM236.92 325.72h4.28v1.54h-4.28zM236.92 334.10h4.28v1.54h-4.28zM236.92 354.23h4.28v1.54h-4.28zM236.92 355.91h4.28v1.54h-4.28z"/>
<path fill="#651616" d="M44.20 218.39h4.28v1.54h-4.28zM44.20 225.09h4.28v1.54h-4.28zM48.48 319.01h4.28v1.54h-4.28zM48.48 325.72h4.28v1.54h-4.28zM52.77 319.01h4.28v1.54h-4.28zM57.05 320.69h4.28v1.54h-4.28zM61.33 365.97h4.28v1.54h-4.28zM65.61 275.41h4.28v1.54h-4.28zM65.61 312.30h4.28v1.54h-4.28zM82.74 307.27h4.28v1.54h-4.28zM91.31 213.35h4.28v1.54h-4.28zM91.31 218.39h4.28v1.54h-4.28zM91.31 334.10h4.28v1.54h-4.28zM95.59 365.97h4.28v1.54h-4.28zM108.44 240.19h4.28v1.54h-4.28zM108.44 305.59h4.28v1.54h-4.28zM112.72 272.05h4.28v1.54h-4.28zM112.72 354.23h4.28v1.54h-4.28zM125.57 226.77h4.28v1.54h-4.28zM125.57 287.15h4.28v1.54h-4.28zM129.85 308.95h4.28v1.54h-4.28zM164.11 360.94h4.28v1.54h-4.28zM181.24 330.75h4.28v1.54h-4.28zM206.94 255.28h4.28v1.54h-4.28zM219.79 319.01h4.28v1.54h-4.28zM224.07 293.85h4.28v1.54h-4.28zM228.35 246.90h4.28v1.54h-4.28z"/>
<path fill="#3a0f0f" d="M44.20 220.06h4.28v1.54h-4.28zM44.20 270.38h4.28v1.54h-4.28zM44.20 277.08h4.28v1.54h-4.28zM44.20 364.29h4.28v1.54h-4.28zM48.48 210.00h4.28v1.54h-4.28zM48.48 225.09h4.28v1.54h-4.28zM48.48 226.77h4.28v1.54h-4.28zM48.48 235.16h4.28v1.54h-4.28zM48.48 238.51h4.28v1.54h-4.28zM48.48 317.33h4.28v1.54h-4.28zM48.48 334.10h4.28v1.54h-4.28zM48.48 352.55h4.28v1.54h-4.28zM52.77 218.39h4.28v1.54h-4.28zM52.77 240.19h4.28v1.54h-4.28zM52.77 283.79h4.28v1.54h-4.28zM52.77 312.30h4.28v1.54h-4.28zM52.77 313.98h4.28v1.54h-4.28zM52.77 315.66h4.28v1.54h-4.28zM52.77 317.33h4.28v1.54h-4.28zM52.77 350.88h4.28v1.54h-4.28zM57.05 215.03h4.28v1.54h-4.28zM57.05 303.92h4.28v1.54h-4.28zM57.05 319.01h4.28v1.54h-4.28zM57.05 324.04h4.28v1.54h-4.28zM57.05 325.72h4.28v1.54h-4.28zM57.05 340.81h4.28v1.54h-4.28zM57.05 349.20h4.28v1.54h-4.28zM61.33 226.77h4.28v1.54h-4.28zM61.33 261.99h4.28v1.54h-4.28zM61.33 268.70h4.28v1.54h-4.28zM61.33 292.18h4.28v1.54h-4.28zM61.33 295.53h4.28v1.54h-4.28zM61.33 302.24h4.28v1.54h-4.28zM65.61 231.80h4.28v1.54h-4.28zM65.61 277.08h4.28v1.54h-4.28zM69.90 211.68h4.28v1.54h-4.28zM69.90 268.70h4.28v1.54h-4.28zM69.90 319.01h4.28v1.54h-4.28zM74.18 220.06h4.28v1.54h-4.28zM74.18 243.54h4.28v1.54h-4.28zM74.18 245.22h4.28v1.54h-4.28zM74.18 283.79h4.28v1.54h-4.28zM74.18 317.33h4.28v1.54h-4.28zM74.18 334.10h4.28v1.54h-4.28zM78.46 273.73h4.28v1.54h-4.28zM78.46 305.59h4.28v1.54h-4.28zM78.46 307.27h4.28v1.54h-4.28zM78.46 367.65h4.28v1.54h-4.28zM78.46 369.32h4.28v1.54h-4.28zM82.74 233.48h4.28v1.54h-4.28zM82.74 308.95h4.28v1.54h-4.28zM82.74 310.62h4.28v1.54h-4.28zM82.74 315.66h4.28v1.54h-4.28zM82.74 317.33h4.28v1.54h-4.28zM87.03 275.41h4.28v1.54h-4.28zM87.03 340.81h4.28v1.54h-4.28zM91.31 211.68h4.28v1.54h-4.28zM91.31 220.06h4.28v1.54h-4.28zM91.31 225.09h4.28v1.54h-4.28zM91.31 236.83h4.28v1.54h-4.28zM91.31 251.93h4.28v1.54h-4.28zM91.31 329.07h4.28v1.54h-4.28zM95.59 223.42h4.28v1.54h-4.28zM95.59 225.09h4.28v1.54h-4.28zM95.59 349.20h4.28v1.54h-4.28zM99.87 221.74h4.28v1.54h-4.28zM99.87 241.86h4.28v1.54h-4.28zM99.87 307.27h4.28v1.54h-4.28zM99.87 365.97h4.28v1.54h-4.28zM104.16 215.03h4.28v1.54h-4.28zM104.16 246.90h4.28v1.54h-4.28zM104.16 290.50h4.28v1.54h-4.28zM104.16 342.49h4.28v1.54h-4.28zM108.44 223.42h4.28v1.54h-4.28zM108.44 303.92h4.28v1.54h-4.28zM108.44 319.01h4.28v1.54h-4.28zM108.44 352.55h4.28v1.54h-4.28zM112.72 218.39h4.28v1.54h-4.28zM112.72 255.28h4.28v1.54h-4.28zM112.72 278.76h4.28v1.54h-4.28zM112.72 280.44h4.28v1.54h-4.28zM112.72 303.92h4.28v1.54h-4.28zM112.72 320.69h4.28v1.54h-4.28zM112.72 322.36h4.28v1.54h-4.28zM112.72 335.78h4.28v1.54h-4.28zM112.72 344.17h4.28v1.54h-4.28zM112.72 357.58h4.28v1.54h-4.28zM112.72 362.61h4.28v1.54h-4.28zM117.00 216.71h4.28v1.54h-4.28zM117.00 221.74h4.28v1.54h-4.28zM117.00 223.42h4.28v1.54h-4.28zM117.00 236.83h4.28v1.54h-4.28zM117.00 295.53h4.28v1.54h-4.28zM117.00 297.21h4.28v1.54h-4.28zM117.00 335.78h4.28v1.54h-4.28zM121.29 238.51h4.28v1.54h-4.28zM121.29 240.19h4.28v1.54h-4.28zM125.57 221.74h4.28v1.54h-4.28zM125.57 228.45h4.28v1.54h-4.28zM125.57 240.19h4.28v1.54h-4.28zM125.57 339.14h4.28v1.54h-4.28zM129.85 223.42h4.28v1.54h-4.28zM129.85 300.56h4.28v1.54h-4.28zM129.85 302.24h4.28v1.54h-4.28zM129.85 315.66h4.28v1.54h-4.28zM129.85 327.40h4.28v1.54h-4.28zM129.85 329.07h4.28v1.54h-4.28zM129.85 349.20h4.28v1.54h-4.28zM129.85 354.23h4.28v1.54h-4.28zM134.13 261.99h4.28v1.54h-4.28zM134.13 305.59h4.28v1.54h-4.28zM134.13 327.40h4.28v1.54h-4.28zM134.13 364.29h4.28v1.54h-4.28zM142.70 287.15h4.28v1.54h-4.28zM142.70 305.59h4.28v1.54h-4.28zM146.98 355.91h4.28v1.54h-4.28zM151.27 215.03h4.28v1.54h-4.28zM155.55 344.17h4.28v1.54h-4.28zM159.83 288.82h4.28v1.54h-4.28zM159.83 352.55h4.28v1.54h-4.28zM164.11 225.09h4.28v1.54h-4.28zM164.11 359.26h4.28v1.54h-4.28zM168.40 220.06h4.28v1.54h-4.28zM172.68 250.25h4.28v1.54h-4.28zM176.96 245.22h4.28v1.54h-4.28zM176.96 278.76h4.28v1.54h-4.28zM176.96 327.40h4.28v1.54h-4.28zM176.96 340.81h4.28v1.54h-4.28zM176.96 369.32h4.28v1.54h-4.28zM181.24 241.86h4.28v1.54h-4.28zM181.24 253.60h4.28v1.54h-4.28zM181.24 273.73h4.28v1.54h-4.28zM181.24 300.56h4.28v1.54h-4.28zM181.24 362.61h4.28v1.54h-4.28zM185.53 253.60h4.28v1.54h-4.28zM185.53 255.28h4.28v1.54h-4.28zM185.53 320.69h4.28v1.54h-4.28zM189.81 272.05h4.28v1.54h-4.28zM189.81 273.73h4.28v1.54h-4.28zM206.94 226.77h4.28v1.54h-4.28zM206.94 283.79h4.28v1.54h-4.28zM211.22 221.74h4.28v1.54h-4.28zM211.22 231.80h4.28v1.54h-4.28zM211.22 255.28h4.28v1.54h-4.28zM215.50 260.31h4.28v1.54h-4.28zM219.79 246.90h4.28v1.54h-4.28zM219.79 248.57h4.28v1.54h-4.28zM219.79 312.30h4.28v1.54h-4.28zM224.07 248.57h4.28v1.54h-4.28zM224.07 325.72h4.28v1.54h-4.28zM228.35 221.74h4.28v1.54h-4.28zM228.35 245.22h4.28v1.54h-4.28zM228.35 248.57h4.28v1.54h-4.28zM228.35 327.40h4.28v1.54h-4.28zM232.63 258.64h4.28v1.54h-4.28zM232.63 260.31h4.28v1.54h-4.28zM236.92 250.25h4.28v1.54h-4.28zM236.92 251.93h4.28v1.54h-4.28zM236.92 253.60h4.28v1.54h-4.28zM236.92 255.28h4.28v1.54h-4.28zM236.92 258.64h4.28v1.54h-4.28zM236.92 260.31h4.28v1.54h-4.28z"/>
<path fill="#8f1c1c" d="M44.20 221.74h4.28v1.54h-4.28zM48.48 313.98h4.28v1.54h-4.28zM52.77 238.51h4.28v1.54h-4.28zM69.90 312.30h4.28v1.54h-4.28zM82.74 319.01h4.28v1.54h-4.28zM95.59 226.77h4.28v1.54h-4.28zM95.59 308.95h4.28v1.54h-4.28zM95.59 347.52h4.28v1.54h-4.28zM99.87 240.19h4.28v1.54h-4.28zM108.44 225.09h4.28v1.54h-4.28zM112.72 248.57h4.28v1.54h-4.28zM117.00 300.56h4.28v1.54h-4.28zM121.29 233.48h4.28v1.54h-4.28zM129.85 238.51h4.28v1.54h-4.28zM129.85 307.27h4.28v1.54h-4.28zM134.13 255.28h4.28v1.54h-4.28zM134.13 349.20h4.28v1.54h-4.28zM142.70 288.82h4.28v1.54h-4.28zM142.70 303.92h4.28v1.54h-4.28zM146.98 298.89h4.28v1.54h-4.28zM155.55 258.64h4.28v1.54h-4.28zM159.83 350.88h4.28v1.54h-4.28zM198.37 290.50h4.28v1.54h-4.28zM202.66 308.95h4.28v1.54h-4.28zM211.22 220.06h4.28v1.54h-4.28zM224.07 250.25h4.28v1.54h-4.28zM224.07 251.93h4.28v1.54h-4.28zM224.07 253.60h4.28v1.54h-4.28z"/>
<path fill="#72d06b" d="M44.20 278.76h4.28v1.54h-4.28zM44.20 320.69h4.28v1.54h-4.28zM48.48 277.08h4.28v1.54h-4.28zM48.48 308.95h4.28v1.54h-4.28zM52.77 251.93h4.28v1.54h-4.28zM52.77 292.18h4.28v1.54h-4.28zM52.77 360.94h4.28v1.54h-4.28zM57.05 236.83h4.28v1.54h-4.28zM57.05 250.25h4.28v1.54h-4.28zM57.05 253.60h4.28v1.54h-4.28zM57.05 287.15h4.28v1.54h-4.28zM57.05 310.62h4.28v1.54h-4.28zM57.05 360.94h4.28v1.54h-4.28zM61.33 220.06h4.28v1.54h-4.28zM61.33 246.90h4.28v1.54h-4.28zM61.33 248.57h4.28v1.54h-4.28zM61.33 250.25h4.28v1.54h-4.28zM61.33 251.93h4.28v1.54h-4.28zM61.33 298.89h4.28v1.54h-4.28zM61.33 305.59h4.28v1.54h-4.28zM65.61 251.93h4.28v1.54h-4.28zM69.90 228.45h4.28v1.54h-4.28zM69.90 231.80h4.28v1.54h-4.28zM69.90 235.16h4.28v1.54h-4.28zM69.90 277.08h4.28v1.54h-4.28zM69.90 278.76h4.28v1.54h-4.28zM69.90 297.21h4.28v1.54h-4.28zM69.90 324.04h4.28v1.54h-4.28zM69.90 329.07h4.28v1.54h-4.28zM69.90 330.75h4.28v1.54h-4.28zM69.90 349.20h4.28v1.54h-4.28zM69.90 350.88h4.28v1.54h-4.28zM74.18 211.68h4.28v1.54h-4.28zM74.18 213.35h4.28v1.54h-4.28zM74.18 298.89h4.28v1.54h-4.28zM74.18 302.24h4.28v1.54h-4.28zM74.18 303.92h4.28v1.54h-4.28zM74.18 357.58h4.28v1.54h-4.28zM78.46 248.57h4.28v1.54h-4.28zM78.46 250.25h4.28v1.54h-4.28zM78.46 251.93h4.28v1.54h-4.28zM78.46 253.60h4.28v1.54h-4.28zM78.46 298.89h4.28v1.54h-4.28zM82.74 216.71h4.28v1.54h-4.28zM82.74 302.24h4.28v1.54h-4.28zM82.74 330.75h4.28v1.54h-4.28zM87.03 213.35h4.28v1.54h-4.28zM87.03 241.86h4.28v1.54h-4.28zM87.03 243.54h4.28v1.54h-4.28zM87.03 245.22h4.28v1.54h-4.28zM87.03 248.57h4.28v1.54h-4.28zM87.03 250.25h4.28v1.54h-4.28zM87.03 251.93h4.28v1.54h-4.28zM87.03 280.44h4.28v1.54h-4.28zM87.03 297.21h4.28v1.54h-4.28zM87.03 298.89h4.28v1.54h-4.28zM87.03 300.56h4.28v1.54h-4.28zM87.03 332.43h4.28v1.54h-4.28zM91.31 240.19h4.28v1.54h-4.28zM91.31 241.86h4.28v1.54h-4.28zM91.31 243.54h4.28v1.54h-4.28zM95.59 233.48h4.28v1.54h-4.28zM95.59 275.41h4.28v1.54h-4.28zM95.59 297.21h4.28v1.54h-4.28zM95.59 305.59h4.28v1.54h-4.28zM95.59 334.10h4.28v1.54h-4.28zM95.59 335.78h4.28v1.54h-4.28zM99.87 251.93h4.28v1.54h-4.28zM99.87 357.58h4.28v1.54h-4.28zM104.16 253.60h4.28v1.54h-4.28zM108.44 362.61h4.28v1.54h-4.28zM117.00 210.00h4.28v1.54h-4.28zM117.00 240.19h4.28v1.54h-4.28zM117.00 246.90h4.28v1.54h-4.28zM121.29 245.22h4.28v1.54h-4.28zM121.29 277.08h4.28v1.54h-4.28zM121.29 330.75h4.28v1.54h-4.28zM121.29 354.23h4.28v1.54h-4.28zM125.57 213.35h4.28v1.54h-4.28zM125.57 255.28h4.28v1.54h-4.28zM125.57 261.99h4.28v1.54h-4.28zM125.57 307.27h4.28v1.54h-4.28zM125.57 332.43h4.28v1.54h-4.28zM125.57 354.23h4.28v1.54h-4.28zM129.85 295.53h4.28v1.54h-4.28zM129.85 320.69h4.28v1.54h-4.28zM134.13 308.95h4.28v1.54h-4.28zM134.13 359.26h4.28v1.54h-4.28zM138.42 216.71h4.28v1.54h-4.28zM138.42 225.09h4.28v1.54h-4.28zM138.42 277.08h4.28v1.54h-4.28zM138.42 280.44h4.28v1.54h-4.28zM138.42 312.30h4.28v1.54h-4.28zM138.42 317.33h4.28v1.54h-4.28zM138.42 319.01h4.28v1.54h-4.28zM138.42 335.78h4.28v1.54h-4.28zM138.42 337.46h4.28v1.54h-4.28zM142.70 225.09h4.28v1.54h-4.28zM142.70 226.77h4.28v1.54h-4.28zM142.70 230.12h4.28v1.54h-4.28zM142.70 240.19h4.28v1.54h-4.28zM142.70 292.18h4.28v1.54h-4.28zM142.70 317.33h4.28v1.54h-4.28zM142.70 319.01h4.28v1.54h-4.28zM142.70 325.72h4.28v1.54h-4.28zM142.70 327.40h4.28v1.54h-4.28zM142.70 354.23h4.28v1.54h-4.28zM146.98 213.35h4.28v1.54h-4.28zM146.98 215.03h4.28v1.54h-4.28zM146.98 220.06h4.28v1.54h-4.28zM146.98 238.51h4.28v1.54h-4.28zM146.98 240.19h4.28v1.54h-4.28zM146.98 241.86h4.28v1.54h-4.28zM146.98 261.99h4.28v1.54h-4.28zM146.98 263.67h4.28v1.54h-4.28zM146.98 267.02h4.28v1.54h-4.28zM146.98 322.36h4.28v1.54h-4.28zM146.98 367.65h4.28v1.54h-4.28zM151.27 225.09h4.28v1.54h-4.28zM151.27 233.48h4.28v1.54h-4.28zM151.27 236.83h4.28v1.54h-4.28zM151.27 238.51h4.28v1.54h-4.28zM151.27 240.19h4.28v1.54h-4.28zM151.27 287.15h4.28v1.54h-4.28zM151.27 319.01h4.28v1.54h-4.28zM151.27 330.75h4.28v1.54h-4.28zM151.27 340.81h4.28v1.54h-4.28zM151.27 359.26h4.28v1.54h-4.28zM155.55 220.06h4.28v1.54h-4.28zM155.55 221.74h4.28v1.54h-4.28zM155.55 277.08h4.28v1.54h-4.28zM155.55 278.76h4.28v1.54h-4.28zM155.55 295.53h4.28v1.54h-4.28zM159.83 231.80h4.28v1.54h-4.28zM159.83 235.16h4.28v1.54h-4.28zM159.83 236.83h4.28v1.54h-4.28zM159.83 238.51h4.28v1.54h-4.28zM159.83 261.99h4.28v1.54h-4.28zM159.83 263.67h4.28v1.54h-4.28zM159.83 267.02h4.28v1.54h-4.28zM159.83 268.70h4.28v1.54h-4.28zM159.83 270.38h4.28v1.54h-4.28zM159.83 297.21h4.28v1.54h-4.28zM159.83 298.89h4.28v1.54h-4.28zM159.83 308.95h4.28v1.54h-4.28zM159.83 325.72h4.28v1.54h-4.28zM159.83 364.29h4.28v1.54h-4.28zM159.83 369.32h4.28v1.54h-4.28zM164.11 210.00h4.28v1.54h-4.28zM164.11 213.35h4.28v1.54h-4.28zM164.11 231.80h4.28v1.54h-4.28zM164.11 233.48h4.28v1.54h-4.28zM164.11 240.19h4.28v1.54h-4.28zM164.11 253.60h4.28v1.54h-4.28zM164.11 260.31h4.28v1.54h-4.28zM164.11 272.05h4.28v1.54h-4.28zM164.11 303.92h4.28v1.54h-4.28zM164.11 339.14h4.28v1.54h-4.28zM168.40 225.09h4.28v1.54h-4.28zM168.40 231.80h4.28v1.54h-4.28zM168.40 238.51h4.28v1.54h-4.28zM168.40 267.02h4.28v1.54h-4.28zM168.40 282.11h4.28v1.54h-4.28zM168.40 287.15h4.28v1.54h-4.28zM168.40 290.50h4.28v1.54h-4.28zM168.40 307.27h4.28v1.54h-4.28zM168.40 352.55h4.28v1.54h-4.28zM168.40 355.91h4.28v1.54h-4.28zM172.68 211.68h4.28v1.54h-4.28zM172.68 213.35h4.28v1.54h-4.28zM172.68 218.39h4.28v1.54h-4.28zM172.68 228.45h4.28v1.54h-4.28zM172.68 241.86h4.28v1.54h-4.28zM172.68 245.22h4.28v1.54h-4.28zM172.68 255.28h4.28v1.54h-4.28zM172.68 256.96h4.28v1.54h-4.28zM172.68 292.18h4.28v1.54h-4.28zM172.68 303.92h4.28v1.54h-4.28zM172.68 305.59h4.28v1.54h-4.28zM172.68 327.40h4.28v1.54h-4.28zM172.68 329.07h4.28v1.54h-4.28zM172.68 334.10h4.28v1.54h-4.28zM172.68 340.81h4.28v1.54h-4.28zM172.68 349.20h4.28v1.54h-4.28zM172.68 367.65h4.28v1.54h-4.28zM172.68 369.32h4.28v1.54h-4.28zM176.96 215.03h4.28v1.54h-4.28zM176.96 220.06h4.28v1.54h-4.28zM176.96 226.77h4.28v1.54h-4.28zM176.96 238.51h4.28v1.54h-4.28zM176.96 265.34h4.28v1.54h-4.28zM176.96 347.52h4.28v1.54h-4.28zM181.24 213.35h4.28v1.54h-4.28zM181.24 215.03h4.28v1.54h-4.28zM181.24 233.48h4.28v1.54h-4.28zM181.24 295.53h4.28v1.54h-4.28zM181.24 308.95h4.28v1.54h-4.28zM181.24 310.62h4.28v1.54h-4.28zM181.24 324.04h4.28v1.54h-4.28zM181.24 325.72h4.28v1.54h-4.28zM185.53 215.03h4.28v1.54h-4.28zM185.53 220.06h4.28v1.54h-4.28zM185.53 245.22h4.28v1.54h-4.28zM185.53 248.57h4.28v1.54h-4.28zM185.53 280.44h4.28v1.54h-4.28zM185.53 283.79h4.28v1.54h-4.28zM185.53 290.50h4.28v1.54h-4.28zM185.53 305.59h4.28v1.54h-4.28zM185.53 310.62h4.28v1.54h-4.28zM185.53 312.30h4.28v1.54h-4.28zM185.53 324.04h4.28v1.54h-4.28zM185.53 330.75h4.28v1.54h-4.28zM185.53 360.94h4.28v1.54h-4.28zM185.53 362.61h4.28v1.54h-4.28zM185.53 364.29h4.28v1.54h-4.28zM189.81 210.00h4.28v1.54h-4.28zM189.81 213.35h4.28v1.54h-4.28zM189.81 327.40h4.28v1.54h-4.28zM189.81 365.97h4.28v1.54h-4.28zM194.09 231.80h4.28v1.54h-4.28zM194.09 233.48h4.28v1.54h-4.28zM194.09 246.90h4.28v1.54h-4.28zM194.09 272.05h4.28v1.54h-4.28zM194.09 283.79h4.28v1.54h-4.28zM194.09 298.89h4.28v1.54h-4.28zM194.09 302.24h4.28v1.54h-4.28zM194.09 322.36h4.28v1.54h-4.28zM194.09 324.04h4.28v1.54h-4.28zM194.09 325.72h4.28v1.54h-4.28zM194.09 330.75h4.28v1.54h-4.28zM194.09 334.10h4.28v1.54h-4.28zM194.09 349.20h4.28v1.54h-4.28zM194.09 350.88h4.28v1.54h-4.28zM194.09 359.26h4.28v1.54h-4.28zM194.09 369.32h4.28v1.54h-4.28zM198.37 218.39h4.28v1.54h-4.28zM198.37 220.06h4.28v1.54h-4.28zM198.37 225.09h4.28v1.54h-4.28zM198.37 226.77h4.28v1.54h-4.28zM198.37 238.51h4.28v1.54h-4.28zM198.37 267.02h4.28v1.54h-4.28zM198.37 280.44h4.28v1.54h-4.28zM198.37 312.30h4.28v1.54h-4.28zM198.37 313.98h4.28v1.54h-4.28zM198.37 337.46h4.28v1.54h-4.28zM198.37 364.29h4.28v1.54h-4.28zM202.66 211.68h4.28v1.54h-4.28zM202.66 221.74h4.28v1.54h-4.28zM202.66 230.12h4.28v1.54h-4.28zM202.66 231.80h4.28v1.54h-4.28zM202.66 235.16h4.28v1.54h-4.28zM202.66 236.83h4.28v1.54h-4.28zM202.66 238.51h4.28v1.54h-4.28zM202.66 240.19h4.28v1.54h-4.28zM202.66 280.44h4.28v1.54h-4.28zM202.66 283.79h4.28v1.54h-4.28zM202.66 319.01h4.28v1.54h-4.28zM202.66 320.69h4.28v1.54h-4.28zM202.66 347.52h4.28v1.54h-4.28zM202.66 354.23h4.28v1.54h-4.28zM206.94 241.86h4.28v1.54h-4.28zM206.94 245.22h4.28v1.54h-4.28zM206.94 265.34h4.28v1.54h-4.28zM206.94 273.73h4.28v1.54h-4.28zM206.94 288.82h4.28v1.54h-4.28zM206.94 293.85h4.28v1.54h-4.28zM206.94 334.10h4.28v1.54h-4.28zM206.94 335.78h4.28v1.54h-4.28zM206.94 349.20h4.28v1.54h-4.28zM206.94 359.26h4.28v1.54h-4.28zM206.94 367.65h4.28v1.54h-4.28zM211.22 210.00h4.28v1.54h-4.28zM211.22 211.68h4.28v1.54h-4.28zM211.22 240.19h4.28v1.54h-4.28zM211.22 300.56h4.28v1.54h-4.28zM211.22 302.24h4.28v1.54h-4.28zM211.22 303.92h4.28v1.54h-4.28zM211.22 319.01h4.28v1.54h-4.28zM215.50 218.39h4.28v1.54h-4.28zM215.50 220.06h4.28v1.54h-4.28zM215.50 233.48h4.28v1.54h-4.28zM215.50 251.93h4.28v1.54h-4.28zM215.50 280.44h4.28v1.54h-4.28zM215.50 282.11h4.28v1.54h-4.28zM215.50 295.53h4.28v1.54h-4.28zM215.50 324.04h4.28v1.54h-4.28zM215.50 330.75h4.28v1.54h-4.28zM215.50 334.10h4.28v1.54h-4.28zM215.50 340.81h4.28v1.54h-4.28zM215.50 342.49h4.28v1.54h-4.28zM215.50 362.61h4.28v1.54h-4.28zM219.79 270.38h4.28v1.54h-4.28zM219.79 272.05h4.28v1.54h-4.28zM219.79 273.73h4.28v1.54h-4.28zM219.79 339.14h4.28v1.54h-4.28zM224.07 297.21h4.28v1.54h-4.28zM228.35 298.89h4.28v1.54h-4.28zM228.35 300.56h4.28v1.54h-4.28zM228.35 334.10h4.28v1.54h-4.28zM228.35 335.78h4.28v1.54h-4.28zM228.35 337.46h4.28v1.54h-4.28zM232.63 216.71h4.28v1.54h-4.28zM232.63 288.82h4.28v1.54h-4.28zM232.63 293.85h4.28v1.54h-4.28zM232.63 295.53h4.28v1.54h-4.28zM232.63 315.66h4.28v1.54h-4.28zM232.63 317.33h4.28v1.54h-4.28zM232.63 335.78h4.28v1.54h-4.28zM236.92 300.56h4.28v1.54h-4.28zM236.92 329.07h4.28v1.54h-4.28zM236.92 347.52h4.28v1.54h-4.28zM236.92 365.97h4.28v1.54h-4.28z"/>
<path fill="#d42a2a" d="M44.20 288.82h4.28v1.54h-4.28zM48.48 310.62h4.28v1.54h-4.28zM48.48 320.69h4.28v1.54h-4.28zM65.61 310.62h4.28v1.54h-4.28zM69.90 210.00h4.28v1.54h-4.28zM74.18 335.78h4.28v1.54h-4.28zM82.74 352.55h4.28v1.54h-4.28zM87.03 335.78h4.28v1.54h-4.28zM91.31 250.25h4.28v1.54h-4.28zM108.44 236.83h4.28v1.54h-4.28zM108.44 344.17h4.28v1.54h-4.28zM112.72 251.93h4.28v1.54h-4.28zM112.72 352.55h4.28v1.54h-4.28zM112.72 365.97h4.28v1.54h-4.28zM112.72 367.65h4.28v1.54h-4.28zM125.57 235.16h4.28v1.54h-4.28zM125.57 236.83h4.28v1.54h-4.28zM125.57 243.54h4.28v1.54h-4.28zM125.57 283.79h4.28v1.54h-4.28zM129.85 310.62h4.28v1.54h-4.28zM129.85 312.30h4.28v1.54h-4.28zM129.85 313.98h4.28v1.54h-4.28zM129.85 352.55h4.28v1.54h-4.28zM146.98 297.21h4.28v1.54h-4.28zM159.83 302.24h4.28v1.54h-4.28zM176.96 270.38h4.28v1.54h-4.28zM176.96 339.14h4.28v1.54h-4.28zM181.24 243.54h4.28v1.54h-4.28zM181.24 360.94h4.28v1.54h-4.28zM185.53 256.96h4.28v1.54h-4.28zM202.66 310.62h4.28v1.54h-4.28zM224.07 256.96h4.28v1.54h-4.28zM224.07 258.64h4.28v1.54h-4.28zM224.07 260.31h4.28v1.54h-4.28z"/>
<path fill="#44a341" d="M44.20 297.21h4.28v1.54h-4.28zM48.48 302.24h4.28v1.54h-4.28zM48.48 305.59h4.28v1.54h-4.28zM52.77 230.12h4.28v1.54h-4.28zM52.77 246.90h4.28v1.54h-4.28zM52.77 293.85h4.28v1.54h-4.28zM57.05 246.90h4.28v1.54h-4.28zM57.05 272.05h4.28v1.54h-4.28zM57.05 285.47h4.28v1.54h-4.28zM61.33 308.95h4.28v1.54h-4.28zM65.61 250.25h4.28v1.54h-4.28zM65.61 297.21h4.28v1.54h-4.28zM65.61 302.24h4.28v1.54h-4.28zM69.90 221.74h4.28v1.54h-4.28zM69.90 273.73h4.28v1.54h-4.28zM69.90 290.50h4.28v1.54h-4.28zM74.18 210.00h4.28v1.54h-4.28zM74.18 225.09h4.28v1.54h-4.28zM74.18 228.45h4.28v1.54h-4.28zM74.18 255.28h4.28v1.54h-4.28zM74.18 320.69h4.28v1.54h-4.28zM74.18 359.26h4.28v1.54h-4.28zM78.46 213.35h4.28v1.54h-4.28zM82.74 255.28h4.28v1.54h-4.28zM82.74 267.02h4.28v1.54h-4.28zM82.74 298.89h4.28v1.54h-4.28zM87.03 233.48h4.28v1.54h-4.28zM87.03 255.28h4.28v1.54h-4.28zM87.03 308.95h4.28v1.54h-4.28zM91.31 273.73h4.28v1.54h-4.28zM95.59 251.93h4.28v1.54h-4.28zM95.59 298.89h4.28v1.54h-4.28zM95.59 325.72h4.28v1.54h-4.28zM95.59 329.07h4.28v1.54h-4.28zM99.87 267.02h4.28v1.54h-4.28zM99.87 330.75h4.28v1.54h-4.28zM104.16 256.96h4.28v1.54h-4.28zM104.16 298.89h4.28v1.54h-4.28zM104.16 300.56h4.28v1.54h-4.28zM104.16 303.92h4.28v1.54h-4.28zM104.16 305.59h4.28v1.54h-4.28zM104.16 360.94h4.28v1.54h-4.28zM108.44 324.04h4.28v1.54h-4.28zM112.72 245.22h4.28v1.54h-4.28zM117.00 245.22h4.28v1.54h-4.28zM117.00 248.57h4.28v1.54h-4.28zM121.29 263.67h4.28v1.54h-4.28zM121.29 360.94h4.28v1.54h-4.28zM125.57 248.57h4.28v1.54h-4.28zM125.57 334.10h4.28v1.54h-4.28zM134.13 238.51h4.28v1.54h-4.28zM138.42 215.03h4.28v1.54h-4.28zM138.42 231.80h4.28v1.54h-4.28zM138.42 240.19h4.28v1.54h-4.28zM138.42 270.38h4.28v1.54h-4.28zM138.42 283.79h4.28v1.54h-4.28zM138.42 369.32h4.28v1.54h-4.28zM142.70 223.42h4.28v1.54h-4.28zM142.70 273.73h4.28v1.54h-4.28zM142.70 295.53h4.28v1.54h-4.28zM142.70 298.89h4.28v1.54h-4.28zM142.70 315.66h4.28v1.54h-4.28zM142.70 340.81h4.28v1.54h-4.28zM146.98 231.80h4.28v1.54h-4.28zM146.98 235.16h4.28v1.54h-4.28zM146.98 317.33h4.28v1.54h-4.28zM146.98 362.61h4.28v1.54h-4.28zM151.27 220.06h4.28v1.54h-4.28zM151.27 241.86h4.28v1.54h-4.28zM151.27 325.72h4.28v1.54h-4.28zM151.27 327.40h4.28v1.54h-4.28zM151.27 329.07h4.28v1.54h-4.28zM151.27 357.58h4.28v1.54h-4.28zM155.55 235.16h4.28v1.54h-4.28zM155.55 280.44h4.28v1.54h-4.28zM155.55 298.89h4.28v1.54h-4.28zM155.55 312.30h4.28v1.54h-4.28zM155.55 319.01h4.28v1.54h-4.28zM155.55 332.43h4.28v1.54h-4.28zM159.83 221.74h4.28v1.54h-4.28zM159.83 223.42h4.28v1.54h-4.28zM159.83 225.09h4.28v1.54h-4.28zM159.83 265.34h4.28v1.54h-4.28zM159.83 285.47h4.28v1.54h-4.28zM159.83 324.04h4.28v1.54h-4.28zM159.83 362.61h4.28v1.54h-4.28zM164.11 258.64h4.28v1.54h-4.28zM164.11 261.99h4.28v1.54h-4.28zM164.11 265.34h4.28v1.54h-4.28zM164.11 270.38h4.28v1.54h-4.28zM164.11 280.44h4.28v1.54h-4.28zM164.11 337.46h4.28v1.54h-4.28zM168.40 263.67h4.28v1.54h-4.28zM168.40 285.47h4.28v1.54h-4.28zM168.40 300.56h4.28v1.54h-4.28zM168.40 303.92h4.28v1.54h-4.28zM172.68 215.03h4.28v1.54h-4.28zM172.68 216.71h4.28v1.54h-4.28zM172.68 230.12h4.28v1.54h-4.28zM172.68 231.80h4.28v1.54h-4.28zM172.68 235.16h4.28v1.54h-4.28zM172.68 238.51h4.28v1.54h-4.28zM172.68 246.90h4.28v1.54h-4.28zM172.68 277.08h4.28v1.54h-4.28zM172.68 280.44h4.28v1.54h-4.28zM172.68 282.11h4.28v1.54h-4.28zM172.68 285.47h4.28v1.54h-4.28zM172.68 293.85h4.28v1.54h-4.28zM172.68 295.53h4.28v1.54h-4.28zM172.68 302.24h4.28v1.54h-4.28zM172.68 365.97h4.28v1.54h-4.28zM176.96 216.71h4.28v1.54h-4.28zM176.96 231.80h4.28v1.54h-4.28zM176.96 235.16h4.28v1.54h-4.28zM176.96 240.19h4.28v1.54h-4.28zM176.96 280.44h4.28v1.54h-4.28zM176.96 310.62h4.28v1.54h-4.28zM176.96 342.49h4.28v1.54h-4.28zM176.96 344.17h4.28v1.54h-4.28zM181.24 282.11h4.28v1.54h-4.28zM181.24 293.85h4.28v1.54h-4.28zM181.24 297.21h4.28v1.54h-4.28zM181.24 347.52h4.28v1.54h-4.28zM185.53 213.35h4.28v1.54h-4.28zM185.53 241.86h4.28v1.54h-4.28zM185.53 250.25h4.28v1.54h-4.28zM185.53 307.27h4.28v1.54h-4.28zM185.53 345.84h4.28v1.54h-4.28zM189.81 226.77h4.28v1.54h-4.28zM189.81 347.52h4.28v1.54h-4.28zM189.81 349.20h4.28v1.54h-4.28zM189.81 369.32h4.28v1.54h-4.28zM194.09 241.86h4.28v1.54h-4.28zM194.09 245.22h4.28v1.54h-4.28zM194.09 255.28h4.28v1.54h-4.28zM194.09 327.40h4.28v1.54h-4.28zM194.09 335.78h4.28v1.54h-4.28zM194.09 337.46h4.28v1.54h-4.28zM194.09 344.17h4.28v1.54h-4.28zM194.09 345.84h4.28v1.54h-4.28zM194.09 352.55h4.28v1.54h-4.28zM198.37 216.71h4.28v1.54h-4.28zM198.37 240.19h4.28v1.54h-4.28zM198.37 302.24h4.28v1.54h-4.28zM198.37 339.14h4.28v1.54h-4.28zM202.66 210.00h4.28v1.54h-4.28zM202.66 285.47h4.28v1.54h-4.28zM202.66 290.50h4.28v1.54h-4.28zM202.66 300.56h4.28v1.54h-4.28zM202.66 355.91h4.28v1.54h-4.28zM202.66 357.58h4.28v1.54h-4.28zM206.94 233.48h4.28v1.54h-4.28zM206.94 270.38h4.28v1.54h-4.28zM206.94 272.05h4.28v1.54h-4.28zM206.94 287.15h4.28v1.54h-4.28zM206.94 297.21h4.28v1.54h-4.28zM206.94 305.59h4.28v1.54h-4.28zM206.94 330.75h4.28v1.54h-4.28zM206.94 337.46h4.28v1.54h-4.28zM206.94 360.94h4.28v1.54h-4.28zM211.22 235.16h4.28v1.54h-4.28zM211.22 278.76h4.28v1.54h-4.28zM211.22 287.15h4.28v1.54h-4.28zM211.22 288.82h4.28v1.54h-4.28zM211.22 292.18h4.28v1.54h-4.28zM211.22 298.89h4.28v1.54h-4.28zM211.22 315.66h4.28v1.54h-4.28zM211.22 320.69h4.28v1.54h-4.28zM211.22 339.14h4.28v1.54h-4.28zM211.22 344.17h4.28v1.54h-4.28zM211.22 359.26h4.28v1.54h-4.28zM211.22 365.97h4.28v1.54h-4.28zM211.22 367.65h4.28v1.54h-4.28zM215.50 215.03h4.28v1.54h-4.28zM215.50 253.60h4.28v1.54h-4.28zM215.50 272.05h4.28v1.54h-4.28zM215.50 278.76h4.28v1.54h-4.28zM215.50 322.36h4.28v1.54h-4.28zM215.50 325.72h4.28v1.54h-4.28zM215.50 349.20h4.28v1.54h-4.28zM215.50 364.29h4.28v1.54h-4.28zM215.50 367.65h4.28v1.54h-4.28zM219.79 221.74h4.28v1.54h-4.28zM219.79 282.11h4.28v1.54h-4.28zM219.79 285.47h4.28v1.54h-4.28zM219.79 349.20h4.28v1.54h-4.28zM224.07 225.09h4.28v1.54h-4.28zM224.07 228.45h4.28v1.54h-4.28zM224.07 339.14h4.28v1.54h-4.28zM228.35 223.42h4.28v1.54h-4.28zM228.35 233.48h4.28v1.54h-4.28zM228.35 297.21h4.28v1.54h-4.28zM228.35 339.14h4.28v1.54h-4.28zM228.35 367.65h4.28v1.54h-4.28zM232.63 319.01h4.28v1.54h-4.28zM236.92 218.39h4.28v1.54h-4.28zM236.92 221.74h4.28v1.54h-4.28zM236.92 278.76h4.28v1.54h-4.28zM236.92 283.79h4.28v1.54h-4.28zM236.92 349.20h4.28v1.54h-4.28zM236.92 350.88h4.28v1.54h-4.28z"/>
<path fill="#368735" d="M44.20 300.56h4.28v1.54h-4.28zM44.20 302.24h4.28v1.54h-4.28zM44.20 340.81h4.28v1.54h-4.28zM48.48 245.22h4.28v1.54h-4.28zM48.48 246.90h4.28v1.54h-4.28zM48.48 251.93h4.28v1.54h-4.28zM48.48 298.89h4.28v1.54h-4.28zM48.48 347.52h4.28v1.54h-4.28zM52.77 270.38h4.28v1.54h-4.28zM52.77 302.24h4.28v1.54h-4.28zM57.05 297.21h4.28v1.54h-4.28zM57.05 359.26h4.28v1.54h-4.28zM61.33 245.22h4.28v1.54h-4.28zM65.61 245.22h4.28v1.54h-4.28zM65.61 246.90h4.28v1.54h-4.28zM65.61 248.57h4.28v1.54h-4.28zM65.61 253.60h4.28v1.54h-4.28zM69.90 218.39h4.28v1.54h-4.28zM69.90 220.06h4.28v1.54h-4.28zM69.90 275.41h4.28v1.54h-4.28zM69.90 287.15h4.28v1.54h-4.28zM69.90 295.53h4.28v1.54h-4.28zM69.90 360.94h4.28v1.54h-4.28zM69.90 362.61h4.28v1.54h-4.28zM78.46 303.92h4.28v1.54h-4.28zM78.46 308.95h4.28v1.54h-4.28zM78.46 327.40h4.28v1.54h-4.28zM82.74 215.03h4.28v1.54h-4.28zM82.74 297.21h4.28v1.54h-4.28zM82.74 359.26h4.28v1.54h-4.28zM87.03 267.02h4.28v1.54h-4.28zM87.03 278.76h4.28v1.54h-4.28zM87.03 305.59h4.28v1.54h-4.28zM91.31 297.21h4.28v1.54h-4.28zM95.59 273.73h4.28v1.54h-4.28zM95.59 327.40h4.28v1.54h-4.28zM99.87 327.40h4.28v1.54h-4.28zM104.16 241.86h4.28v1.54h-4.28zM104.16 248.57h4.28v1.54h-4.28zM104.16 251.93h4.28v1.54h-4.28zM104.16 297.21h4.28v1.54h-4.28zM108.44 292.18h4.28v1.54h-4.28zM117.00 255.28h4.28v1.54h-4.28zM117.00 319.01h4.28v1.54h-4.28zM134.13 235.16h4.28v1.54h-4.28zM134.13 362.61h4.28v1.54h-4.28zM138.42 258.64h4.28v1.54h-4.28zM138.42 263.67h4.28v1.54h-4.28zM138.42 268.70h4.28v1.54h-4.28zM138.42 293.85h4.28v1.54h-4.28zM138.42 303.92h4.28v1.54h-4.28zM138.42 367.65h4.28v1.54h-4.28zM142.70 220.06h4.28v1.54h-4.28zM142.70 241.86h4.28v1.54h-4.28zM142.70 275.41h4.28v1.54h-4.28zM142.70 300.56h4.28v1.54h-4.28zM142.70 339.14h4.28v1.54h-4.28zM146.98 216.71h4.28v1.54h-4.28zM146.98 265.34h4.28v1.54h-4.28zM146.98 268.70h4.28v1.54h-4.28zM146.98 270.38h4.28v1.54h-4.28zM146.98 310.62h4.28v1.54h-4.28zM146.98 315.66h4.28v1.54h-4.28zM146.98 319.01h4.28v1.54h-4.28zM146.98 320.69h4.28v1.54h-4.28zM146.98 332.43h4.28v1.54h-4.28zM146.98 347.52h4.28v1.54h-4.28zM151.27 213.35h4.28v1.54h-4.28zM151.27 253.60h4.28v1.54h-4.28zM151.27 285.47h4.28v1.54h-4.28zM155.55 210.00h4.28v1.54h-4.28zM155.55 236.83h4.28v1.54h-4.28zM155.55 248.57h4.28v1.54h-4.28zM155.55 320.69h4.28v1.54h-4.28zM159.83 228.45h4.28v1.54h-4.28zM159.83 248.57h4.28v1.54h-4.28zM159.83 287.15h4.28v1.54h-4.28zM159.83 295.53h4.28v1.54h-4.28zM159.83 305.59h4.28v1.54h-4.28zM159.83 347.52h4.28v1.54h-4.28zM164.11 263.67h4.28v1.54h-4.28zM168.40 211.68h4.28v1.54h-4.28zM168.40 261.99h4.28v1.54h-4.28zM168.40 278.76h4.28v1.54h-4.28zM168.40 335.78h4.28v1.54h-4.28zM168.40 354.23h4.28v1.54h-4.28zM168.40 369.32h4.28v1.54h-4.28zM172.68 263.67h4.28v1.54h-4.28zM172.68 265.34h4.28v1.54h-4.28zM172.68 272.05h4.28v1.54h-4.28zM172.68 273.73h4.28v1.54h-4.28zM172.68 324.04h4.28v1.54h-4.28zM172.68 364.29h4.28v1.54h-4.28zM176.96 288.82h4.28v1.54h-4.28zM176.96 298.89h4.28v1.54h-4.28zM176.96 300.56h4.28v1.54h-4.28zM176.96 334.10h4.28v1.54h-4.28zM176.96 345.84h4.28v1.54h-4.28zM176.96 354.23h4.28v1.54h-4.28zM181.24 216.71h4.28v1.54h-4.28zM181.24 285.47h4.28v1.54h-4.28zM181.24 305.59h4.28v1.54h-4.28zM181.24 350.88h4.28v1.54h-4.28zM185.53 216.71h4.28v1.54h-4.28zM185.53 236.83h4.28v1.54h-4.28zM185.53 340.81h4.28v1.54h-4.28zM185.53 367.65h4.28v1.54h-4.28zM189.81 258.64h4.28v1.54h-4.28zM189.81 310.62h4.28v1.54h-4.28zM189.81 335.78h4.28v1.54h-4.28zM189.81 339.14h4.28v1.54h-4.28zM194.09 213.35h4.28v1.54h-4.28zM194.09 215.03h4.28v1.54h-4.28zM194.09 220.06h4.28v1.54h-4.28zM194.09 225.09h4.28v1.54h-4.28zM194.09 238.51h4.28v1.54h-4.28zM194.09 243.54h4.28v1.54h-4.28zM194.09 273.73h4.28v1.54h-4.28zM194.09 295.53h4.28v1.54h-4.28zM194.09 297.21h4.28v1.54h-4.28zM194.09 317.33h4.28v1.54h-4.28zM194.09 329.07h4.28v1.54h-4.28zM194.09 367.65h4.28v1.54h-4.28zM198.37 221.74h4.28v1.54h-4.28zM198.37 282.11h4.28v1.54h-4.28zM202.66 218.39h4.28v1.54h-4.28zM202.66 228.45h4.28v1.54h-4.28zM202.66 233.48h4.28v1.54h-4.28zM202.66 327.40h4.28v1.54h-4.28zM202.66 352.55h4.28v1.54h-4.28zM206.94 213.35h4.28v1.54h-4.28zM206.94 216.71h4.28v1.54h-4.28zM206.94 268.70h4.28v1.54h-4.28zM206.94 352.55h4.28v1.54h-4.28zM206.94 369.32h4.28v1.54h-4.28zM211.22 223.42h4.28v1.54h-4.28zM211.22 246.90h4.28v1.54h-4.28zM211.22 275.41h4.28v1.54h-4.28zM211.22 305.59h4.28v1.54h-4.28zM211.22 352.55h4.28v1.54h-4.28zM211.22 362.61h4.28v1.54h-4.28zM211.22 369.32h4.28v1.54h-4.28zM215.50 213.35h4.28v1.54h-4.28zM215.50 221.74h4.28v1.54h-4.28zM215.50 230.12h4.28v1.54h-4.28zM215.50 240.19h4.28v1.54h-4.28zM215.50 241.86h4.28v1.54h-4.28zM215.50 250.25h4.28v1.54h-4.28zM215.50 268.70h4.28v1.54h-4.28zM215.50 287.15h4.28v1.54h-4.28zM215.50 300.56h4.28v1.54h-4.28zM215.50 302.24h4.28v1.54h-4.28zM215.50 345.84h4.28v1.54h-4.28zM219.79 278.76h4.28v1.54h-4.28zM219.79 334.10h4.28v1.54h-4.28zM219.79 345.84h4.28v1.54h-4.28zM224.07 233.48h4.28v1.54h-4.28zM224.07 308.95h4.28v1.54h-4.28zM224.07 312.30h4.28v1.54h-4.28zM224.07 369.32h4.28v1.54h-4.28zM228.35 226.77h4.28v1.54h-4.28zM228.35 235.16h4.28v1.54h-4.28zM228.35 307.27h4.28v1.54h-4.28zM228.35 308.95h4.28v1.54h-4.28zM228.35 347.52h4.28v1.54h-4.28zM228.35 352.55h4.28v1.54h-4.28zM228.35 359.26h4.28v1.54h-4.28zM232.63 215.03h4.28v1.54h-4.28zM232.63 223.42h4.28v1.54h-4.28zM232.63 225.09h4.28v1.54h-4.28zM232.63 283.79h4.28v1.54h-4.28zM232.63 292.18h4.28v1.54h-4.28zM232.63 334.10h4.28v1.54h-4.28zM232.63 347.52h4.28v1.54h-4.28zM232.63 362.61h4.28v1.54h-4.28zM232.63 365.97h4.28v1.54h-4.28zM236.92 213.35h4.28v1.54h-4.28zM236.92 263.67h4.28v1.54h-4.28zM236.92 305.59h4.28v1.54h-4.28zM236.92 352.55h4.28v1.54h-4.28zM236.92 367.65h4.28v1.54h-4.28zM236.92 369.32h4.28v1.54h-4.28z"/>
<path fill="#286a29" d="M44.20 310.62h4.28v1.54h-4.28zM44.20 317.33h4.28v1.54h-4.28zM44.20 325.72h4.28v1.54h-4.28zM48.48 297.21h4.28v1.54h-4.28zM48.48 303.92h4.28v1.54h-4.28zM52.77 248.57h4.28v1.54h-4.28zM52.77 250.25h4.28v1.54h-4.28zM52.77 297.21h4.28v1.54h-4.28zM52.77 303.92h4.28v1.54h-4.28zM52.77 305.59h4.28v1.54h-4.28zM57.05 238.51h4.28v1.54h-4.28zM57.05 245.22h4.28v1.54h-4.28zM57.05 248.57h4.28v1.54h-4.28zM57.05 280.44h4.28v1.54h-4.28zM57.05 288.82h4.28v1.54h-4.28zM57.05 292.18h4.28v1.54h-4.28zM57.05 305.59h4.28v1.54h-4.28zM61.33 230.12h4.28v1.54h-4.28zM65.61 288.82h4.28v1.54h-4.28zM65.61 298.89h4.28v1.54h-4.28zM65.61 305.59h4.28v1.54h-4.28zM69.90 225.09h4.28v1.54h-4.28zM69.90 248.57h4.28v1.54h-4.28zM69.90 337.46h4.28v1.54h-4.28zM69.90 364.29h4.28v1.54h-4.28zM74.18 223.42h4.28v1.54h-4.28zM78.46 295.53h4.28v1.54h-4.28zM82.74 251.93h4.28v1.54h-4.28zM82.74 300.56h4.28v1.54h-4.28zM82.74 305.59h4.28v1.54h-4.28zM87.03 307.27h4.28v1.54h-4.28zM87.03 330.75h4.28v1.54h-4.28zM91.31 298.89h4.28v1.54h-4.28zM95.59 302.24h4.28v1.54h-4.28zM95.59 307.27h4.28v1.54h-4.28zM99.87 297.21h4.28v1.54h-4.28zM99.87 355.91h4.28v1.54h-4.28zM104.16 302.24h4.28v1.54h-4.28zM104.16 332.43h4.28v1.54h-4.28zM104.16 345.84h4.28v1.54h-4.28zM108.44 325.72h4.28v1.54h-4.28zM112.72 298.89h4.28v1.54h-4.28zM117.00 253.60h4.28v1.54h-4.28zM117.00 320.69h4.28v1.54h-4.28zM117.00 322.36h4.28v1.54h-4.28zM121.29 305.59h4.28v1.54h-4.28zM125.57 215.03h4.28v1.54h-4.28zM125.57 310.62h4.28v1.54h-4.28zM125.57 329.07h4.28v1.54h-4.28zM125.57 335.78h4.28v1.54h-4.28zM134.13 245.22h4.28v1.54h-4.28zM138.42 218.39h4.28v1.54h-4.28zM138.42 230.12h4.28v1.54h-4.28zM138.42 241.86h4.28v1.54h-4.28zM138.42 261.99h4.28v1.54h-4.28zM138.42 325.72h4.28v1.54h-4.28zM142.70 293.85h4.28v1.54h-4.28zM146.98 251.93h4.28v1.54h-4.28zM151.27 320.69h4.28v1.54h-4.28zM151.27 339.14h4.28v1.54h-4.28zM155.55 218.39h4.28v1.54h-4.28zM155.55 233.48h4.28v1.54h-4.28zM155.55 297.21h4.28v1.54h-4.28zM159.83 215.03h4.28v1.54h-4.28zM159.83 226.77h4.28v1.54h-4.28zM159.83 272.05h4.28v1.54h-4.28zM159.83 273.73h4.28v1.54h-4.28zM159.83 275.41h4.28v1.54h-4.28zM159.83 327.40h4.28v1.54h-4.28zM159.83 337.46h4.28v1.54h-4.28zM164.11 221.74h4.28v1.54h-4.28zM164.11 255.28h4.28v1.54h-4.28zM164.11 256.96h4.28v1.54h-4.28zM164.11 285.47h4.28v1.54h-4.28zM164.11 305.59h4.28v1.54h-4.28zM168.40 230.12h4.28v1.54h-4.28zM168.40 236.83h4.28v1.54h-4.28zM168.40 277.08h4.28v1.54h-4.28zM168.40 280.44h4.28v1.54h-4.28zM168.40 297.21h4.28v1.54h-4.28zM168.40 332.43h4.28v1.54h-4.28zM172.68 226.77h4.28v1.54h-4.28zM172.68 275.41h4.28v1.54h-4.28zM172.68 278.76h4.28v1.54h-4.28zM172.68 322.36h4.28v1.54h-4.28zM172.68 342.49h4.28v1.54h-4.28zM172.68 352.55h4.28v1.54h-4.28zM172.68 355.91h4.28v1.54h-4.28zM172.68 360.94h4.28v1.54h-4.28zM172.68 362.61h4.28v1.54h-4.28zM176.96 211.68h4.28v1.54h-4.28zM176.96 218.39h4.28v1.54h-4.28zM176.96 221.74h4.28v1.54h-4.28zM176.96 225.09h4.28v1.54h-4.28zM176.96 256.96h4.28v1.54h-4.28zM176.96 295.53h4.28v1.54h-4.28zM176.96 315.66h4.28v1.54h-4.28zM176.96 330.75h4.28v1.54h-4.28zM176.96 362.61h4.28v1.54h-4.28zM181.24 292.18h4.28v1.54h-4.28zM181.24 298.89h4.28v1.54h-4.28zM181.24 317.33h4.28v1.54h-4.28zM181.24 344.17h4.28v1.54h-4.28zM185.53 337.46h4.28v1.54h-4.28zM185.53 344.17h4.28v1.54h-4.28zM185.53 350.88h4.28v1.54h-4.28zM185.53 357.58h4.28v1.54h-4.28zM185.53 359.26h4.28v1.54h-4.28zM189.81 312.30h4.28v1.54h-4.28zM189.81 344.17h4.28v1.54h-4.28zM189.81 360.94h4.28v1.54h-4.28zM194.09 228.45h4.28v1.54h-4.28zM194.09 310.62h4.28v1.54h-4.28zM194.09 364.29h4.28v1.54h-4.28zM198.37 210.00h4.28v1.54h-4.28zM198.37 308.95h4.28v1.54h-4.28zM198.37 344.17h4.28v1.54h-4.28zM198.37 347.52h4.28v1.54h-4.28zM198.37 365.97h4.28v1.54h-4.28zM202.66 307.27h4.28v1.54h-4.28zM202.66 350.88h4.28v1.54h-4.28zM206.94 220.06h4.28v1.54h-4.28zM206.94 235.16h4.28v1.54h-4.28zM206.94 292.18h4.28v1.54h-4.28zM206.94 295.53h4.28v1.54h-4.28zM206.94 308.95h4.28v1.54h-4.28zM206.94 329.07h4.28v1.54h-4.28zM211.22 236.83h4.28v1.54h-4.28zM211.22 283.79h4.28v1.54h-4.28zM211.22 290.50h4.28v1.54h-4.28zM211.22 312.30h4.28v1.54h-4.28zM211.22 324.04h4.28v1.54h-4.28zM211.22 332.43h4.28v1.54h-4.28zM211.22 340.81h4.28v1.54h-4.28zM215.50 216.71h4.28v1.54h-4.28zM215.50 347.52h4.28v1.54h-4.28zM219.79 235.16h4.28v1.54h-4.28zM219.79 238.51h4.28v1.54h-4.28zM219.79 268.70h4.28v1.54h-4.28zM219.79 300.56h4.28v1.54h-4.28zM219.79 330.75h4.28v1.54h-4.28zM224.07 278.76h4.28v1.54h-4.28zM224.07 285.47h4.28v1.54h-4.28zM224.07 320.69h4.28v1.54h-4.28zM228.35 210.00h4.28v1.54h-4.28zM228.35 215.03h4.28v1.54h-4.28zM228.35 290.50h4.28v1.54h-4.28zM232.63 226.77h4.28v1.54h-4.28zM232.63 228.45h4.28v1.54h-4.28zM232.63 322.36h4.28v1.54h-4.28zM232.63 339.14h4.28v1.54h-4.28zM232.63 345.84h4.28v1.54h-4.28zM232.63 364.29h4.28v1.54h-4.28zM236.92 216.71h4.28v1.54h-4.28zM236.92 270.38h4.28v1.54h-4.28zM236.92 340.81h4.28v1.54h-4.28z"/>
<path fill="#57bc53" d="M44.20 342.49h4.28v1.54h-4.28zM48.48 250.25h4.28v1.54h-4.28zM48.48 300.56h4.28v1.54h-4.28zM52.77 231.80h4.28v1.54h-4.28zM52.77 359.26h4.28v1.54h-4.28zM57.05 251.93h4.28v1.54h-4.28zM57.05 273.73h4.28v1.54h-4.28zM57.05 298.89h4.28v1.54h-4.28zM57.05 300.56h4.28v1.54h-4.28zM57.05 302.24h4.28v1.54h-4.28zM57.05 308.95h4.28v1.54h-4.28zM57.05 369.32h4.28v1.54h-4.28zM61.33 297.21h4.28v1.54h-4.28zM65.61 290.50h4.28v1.54h-4.28zM69.90 215.03h4.28v1.54h-4.28zM69.90 226.77h4.28v1.54h-4.28zM69.90 230.12h4.28v1.54h-4.28zM69.90 327.40h4.28v1.54h-4.28zM74.18 215.03h4.28v1.54h-4.28zM74.18 216.71h4.28v1.54h-4.28zM74.18 226.77h4.28v1.54h-4.28zM74.18 295.53h4.28v1.54h-4.28zM74.18 300.56h4.28v1.54h-4.28zM74.18 307.27h4.28v1.54h-4.28zM74.18 308.95h4.28v1.54h-4.28zM74.18 355.91h4.28v1.54h-4.28zM78.46 290.50h4.28v1.54h-4.28zM78.46 297.21h4.28v1.54h-4.28zM78.46 300.56h4.28v1.54h-4.28zM82.74 253.60h4.28v1.54h-4.28zM82.74 273.73h4.28v1.54h-4.28zM82.74 303.92h4.28v1.54h-4.28zM87.03 211.68h4.28v1.54h-4.28zM87.03 253.60h4.28v1.54h-4.28zM87.03 302.24h4.28v1.54h-4.28zM87.03 303.92h4.28v1.54h-4.28zM95.59 235.16h4.28v1.54h-4.28zM104.16 334.10h4.28v1.54h-4.28zM108.44 364.29h4.28v1.54h-4.28zM112.72 256.96h4.28v1.54h-4.28zM125.57 256.96h4.28v1.54h-4.28zM125.57 278.76h4.28v1.54h-4.28zM129.85 322.36h4.28v1.54h-4.28zM134.13 302.24h4.28v1.54h-4.28zM138.42 220.06h4.28v1.54h-4.28zM138.42 221.74h4.28v1.54h-4.28zM138.42 223.42h4.28v1.54h-4.28zM138.42 226.77h4.28v1.54h-4.28zM138.42 228.45h4.28v1.54h-4.28zM138.42 260.31h4.28v1.54h-4.28zM138.42 267.02h4.28v1.54h-4.28zM138.42 287.15h4.28v1.54h-4.28zM142.70 260.31h4.28v1.54h-4.28zM142.70 272.05h4.28v1.54h-4.28zM142.70 297.21h4.28v1.54h-4.28zM142.70 357.58h4.28v1.54h-4.28zM146.98 218.39h4.28v1.54h-4.28zM146.98 260.31h4.28v1.54h-4.28zM146.98 324.04h4.28v1.54h-4.28zM146.98 325.72h4.28v1.54h-4.28zM146.98 329.07h4.28v1.54h-4.28zM151.27 223.42h4.28v1.54h-4.28zM151.27 231.80h4.28v1.54h-4.28zM151.27 235.16h4.28v1.54h-4.28zM151.27 283.79h4.28v1.54h-4.28zM151.27 337.46h4.28v1.54h-4.28zM155.55 223.42h4.28v1.54h-4.28zM155.55 238.51h4.28v1.54h-4.28zM155.55 300.56h4.28v1.54h-4.28zM155.55 350.88h4.28v1.54h-4.28zM159.83 211.68h4.28v1.54h-4.28zM159.83 233.48h4.28v1.54h-4.28zM159.83 241.86h4.28v1.54h-4.28zM159.83 250.25h4.28v1.54h-4.28zM159.83 329.07h4.28v1.54h-4.28zM164.11 211.68h4.28v1.54h-4.28zM164.11 238.51h4.28v1.54h-4.28zM164.11 241.86h4.28v1.54h-4.28zM164.11 251.93h4.28v1.54h-4.28zM164.11 317.33h4.28v1.54h-4.28zM164.11 364.29h4.28v1.54h-4.28zM168.40 233.48h4.28v1.54h-4.28zM168.40 255.28h4.28v1.54h-4.28zM168.40 265.34h4.28v1.54h-4.28zM168.40 288.82h4.28v1.54h-4.28zM168.40 313.98h4.28v1.54h-4.28zM168.40 330.75h4.28v1.54h-4.28zM172.68 236.83h4.28v1.54h-4.28zM172.68 240.19h4.28v1.54h-4.28zM172.68 243.54h4.28v1.54h-4.28zM172.68 268.70h4.28v1.54h-4.28zM172.68 283.79h4.28v1.54h-4.28zM172.68 290.50h4.28v1.54h-4.28zM172.68 298.89h4.28v1.54h-4.28zM172.68 330.75h4.28v1.54h-4.28zM172.68 335.78h4.28v1.54h-4.28zM172.68 339.14h4.28v1.54h-4.28zM176.96 236.83h4.28v1.54h-4.28zM176.96 250.25h4.28v1.54h-4.28zM176.96 253.60h4.28v1.54h-4.28zM176.96 308.95h4.28v1.54h-4.28zM176.96 312.30h4.28v1.54h-4.28zM176.96 313.98h4.28v1.54h-4.28zM176.96 332.43h4.28v1.54h-4.28zM181.24 211.68h4.28v1.54h-4.28zM181.24 315.66h4.28v1.54h-4.28zM181.24 322.36h4.28v1.54h-4.28zM185.53 210.00h4.28v1.54h-4.28zM185.53 303.92h4.28v1.54h-4.28zM185.53 327.40h4.28v1.54h-4.28zM185.53 329.07h4.28v1.54h-4.28zM185.53 365.97h4.28v1.54h-4.28zM189.81 228.45h4.28v1.54h-4.28zM189.81 330.75h4.28v1.54h-4.28zM189.81 357.58h4.28v1.54h-4.28zM194.09 230.12h4.28v1.54h-4.28zM194.09 235.16h4.28v1.54h-4.28zM194.09 236.83h4.28v1.54h-4.28zM194.09 278.76h4.28v1.54h-4.28zM194.09 300.56h4.28v1.54h-4.28zM194.09 315.66h4.28v1.54h-4.28zM194.09 332.43h4.28v1.54h-4.28zM194.09 354.23h4.28v1.54h-4.28zM198.37 223.42h4.28v1.54h-4.28zM198.37 236.83h4.28v1.54h-4.28zM198.37 303.92h4.28v1.54h-4.28zM198.37 340.81h4.28v1.54h-4.28zM202.66 213.35h4.28v1.54h-4.28zM202.66 220.06h4.28v1.54h-4.28zM202.66 267.02h4.28v1.54h-4.28zM202.66 270.38h4.28v1.54h-4.28zM202.66 272.05h4.28v1.54h-4.28zM202.66 282.11h4.28v1.54h-4.28zM206.94 211.68h4.28v1.54h-4.28zM206.94 215.03h4.28v1.54h-4.28zM206.94 218.39h4.28v1.54h-4.28zM206.94 240.19h4.28v1.54h-4.28zM206.94 277.08h4.28v1.54h-4.28zM206.94 319.01h4.28v1.54h-4.28zM206.94 355.91h4.28v1.54h-4.28zM206.94 357.58h4.28v1.54h-4.28zM211.22 238.51h4.28v1.54h-4.28zM211.22 241.86h4.28v1.54h-4.28zM211.22 330.75h4.28v1.54h-4.28zM211.22 345.84h4.28v1.54h-4.28zM211.22 354.23h4.28v1.54h-4.28zM211.22 355.91h4.28v1.54h-4.28zM215.50 267.02h4.28v1.54h-4.28zM215.50 307.27h4.28v1.54h-4.28zM215.50 317.33h4.28v1.54h-4.28zM215.50 329.07h4.28v1.54h-4.28zM215.50 344.17h4.28v1.54h-4.28zM215.50 352.55h4.28v1.54h-4.28zM215.50 357.58h4.28v1.54h-4.28zM215.50 365.97h4.28v1.54h-4.28zM219.79 211.68h4.28v1.54h-4.28zM219.79 230.12h4.28v1.54h-4.28zM219.79 325.72h4.28v1.54h-4.28zM219.79 344.17h4.28v1.54h-4.28zM224.07 211.68h4.28v1.54h-4.28zM224.07 283.79h4.28v1.54h-4.28zM224.07 287.15h4.28v1.54h-4.28zM224.07 364.29h4.28v1.54h-4.28zM228.35 225.09h4.28v1.54h-4.28zM228.35 230.12h4.28v1.54h-4.28zM228.35 231.80h4.28v1.54h-4.28zM228.35 350.88h4.28v1.54h-4.28zM228.35 362.61h4.28v1.54h-4.28zM232.63 218.39h4.28v1.54h-4.28zM232.63 231.80h4.28v1.54h-4.28zM232.63 233.48h4.28v1.54h-4.28zM232.63 290.50h4.28v1.54h-4.28zM232.63 367.65h4.28v1.54h-4.28zM236.92 210.00h4.28v1.54h-4.28zM236.92 223.42h4.28v1.54h-4.28zM236.92 225.09h4.28v1.54h-4.28zM236.92 226.77h4.28v1.54h-4.28zM236.92 240.19h4.28v1.54h-4.28zM236.92 241.86h4.28v1.54h-4.28zM236.92 268.70h4.28v1.54h-4.28zM236.92 272.05h4.28v1.54h-4.28zM236.92 288.82h4.28v1.54h-4.28zM236.92 360.94h4.28v1.54h-4.28zM236.92 362.61h4.28v1.54h-4.28zM236.92 364.29h4.28v1.54h-4.28z"/>
<path fill="#4c1212" d="M44.20 365.97h4.28v1.54h-4.28zM48.48 228.45h4.28v1.54h-4.28zM48.48 230.12h4.28v1.54h-4.28zM48.48 315.66h4.28v1.54h-4.28zM52.77 215.03h4.28v1.54h-4.28zM52.77 220.06h4.28v1.54h-4.28zM61.33 213.35h4.28v1.54h-4.28zM61.33 303.92h4.28v1.54h-4.28zM61.33 330.75h4.28v1.54h-4.28zM74.18 340.81h4.28v1.54h-4.28zM78.46 226.77h4.28v1.54h-4.28zM78.46 315.66h4.28v1.54h-4.28zM87.03 273.73h4.28v1.54h-4.28zM87.03 322.36h4.28v1.54h-4.28zM91.31 226.77h4.28v1.54h-4.28zM91.31 332.43h4.28v1.54h-4.28zM91.31 362.61h4.28v1.54h-4.28zM95.59 367.65h4.28v1.54h-4.28zM99.87 213.35h4.28v1.54h-4.28zM99.87 367.65h4.28v1.54h-4.28zM108.44 238.51h4.28v1.54h-4.28zM112.72 250.25h4.28v1.54h-4.28zM117.00 298.89h4.28v1.54h-4.28zM121.29 283.79h4.28v1.54h-4.28zM121.29 297.21h4.28v1.54h-4.28zM121.29 364.29h4.28v1.54h-4.28zM125.57 345.84h4.28v1.54h-4.28zM129.85 273.73h4.28v1.54h-4.28zM129.85 360.94h4.28v1.54h-4.28zM129.85 362.61h4.28v1.54h-4.28zM134.13 256.96h4.28v1.54h-4.28zM134.13 260.31h4.28v1.54h-4.28zM134.13 344.17h4.28v1.54h-4.28zM138.42 238.51h4.28v1.54h-4.28zM146.98 295.53h4.28v1.54h-4.28zM155.55 327.40h4.28v1.54h-4.28zM159.83 278.76h4.28v1.54h-4.28zM164.11 357.58h4.28v1.54h-4.28zM181.24 340.81h4.28v1.54h-4.28zM202.66 302.24h4.28v1.54h-4.28zM211.22 256.96h4.28v1.54h-4.28zM215.50 313.98h4.28v1.54h-4.28zM219.79 256.96h4.28v1.54h-4.28zM224.07 245.22h4.28v1.54h-4.28zM224.07 255.28h4.28v1.54h-4.28zM224.07 350.88h4.28v1.54h-4.28zM228.35 220.06h4.28v1.54h-4.28zM236.92 231.80h4.28v1.54h-4.28z"/>
<path fill="#1b4a1e" d="M52.77 300.56h4.28v1.54h-4.28zM52.77 337.46h4.28v1.54h-4.28zM57.05 313.98h4.28v1.54h-4.28zM61.33 231.80h4.28v1.54h-4.28zM69.90 216.71h4.28v1.54h-4.28zM69.90 223.42h4.28v1.54h-4.28zM69.90 280.44h4.28v1.54h-4.28zM69.90 283.79h4.28v1.54h-4.28zM74.18 319.01h4.28v1.54h-4.28zM74.18 350.88h4.28v1.54h-4.28zM82.74 250.25h4.28v1.54h-4.28zM99.87 255.28h4.28v1.54h-4.28zM129.85 292.18h4.28v1.54h-4.28zM134.13 360.94h4.28v1.54h-4.28zM138.42 310.62h4.28v1.54h-4.28zM138.42 320.69h4.28v1.54h-4.28zM159.83 230.12h4.28v1.54h-4.28zM159.83 283.79h4.28v1.54h-4.28zM159.83 360.94h4.28v1.54h-4.28zM164.11 230.12h4.28v1.54h-4.28zM164.11 236.83h4.28v1.54h-4.28zM168.40 293.85h4.28v1.54h-4.28zM172.68 287.15h4.28v1.54h-4.28zM176.96 228.45h4.28v1.54h-4.28zM181.24 280.44h4.28v1.54h-4.28zM181.24 283.79h4.28v1.54h-4.28zM185.53 308.95h4.28v1.54h-4.28zM185.53 325.72h4.28v1.54h-4.28zM185.53 332.43h4.28v1.54h-4.28zM194.09 288.82h4.28v1.54h-4.28zM194.09 307.27h4.28v1.54h-4.28zM194.09 313.98h4.28v1.54h-4.28zM198.37 265.34h4.28v1.54h-4.28zM198.37 315.66h4.28v1.54h-4.28zM198.37 334.10h4.28v1.54h-4.28zM198.37 360.94h4.28v1.54h-4.28zM202.66 263.67h4.28v1.54h-4.28zM202.66 265.34h4.28v1.54h-4.28zM202.66 287.15h4.28v1.54h-4.28zM202.66 288.82h4.28v1.54h-4.28zM202.66 292.18h4.28v1.54h-4.28zM202.66 317.33h4.28v1.54h-4.28zM206.94 350.88h4.28v1.54h-4.28zM211.22 272.05h4.28v1.54h-4.28zM211.22 329.07h4.28v1.54h-4.28zM215.50 308.95h4.28v1.54h-4.28zM219.79 277.08h4.28v1.54h-4.28zM219.79 359.26h4.28v1.54h-4.28zM224.07 220.06h4.28v1.54h-4.28zM228.35 211.68h4.28v1.54h-4.28zM228.35 238.51h4.28v1.54h-4.28zM232.63 352.55h4.28v1.54h-4.28zM236.92 220.06h4.28v1.54h-4.28z"/>
<path fill="#cfd24a" d="M108.44 288.82h4.28v1.54h-4.28z"/>
</g>
<polygon points="44.2,211 40.3,211 37.8,212.0 38.1,214.0 38.7,216.0 37.2,217.3 37.8,219.7 39.6,221.2 39.2,223.1 38.7,224.9 38.7,226.3 38.5,228.8 38.8,231.0 39.0,232.3 37.9,234.3 39.3,235.5 38.9,237.4 38.9,239.8 38.1,242.3 38.3,244.7 39.3,247.2 37.5,248.5 39.5,250.0 38.7,251.8 38.4,253.4 38.0,255.2 38.6,257.2 38.8,259.7 39.3,262.2 38.8,264.7 39.3,266.2 39.4,268.7 38.9,270.7 39.2,272.2 37.9,274.2 39.2,275.5 37.4,278.1 38.2,280.4 37.9,281.8 39.3,284.1 38.7,285.4 38.9,286.6 39.3,288.3 38.4,290.9 37.9,293.5 38.6,294.8 37.7,296.0 38.7,297.8 37.3,299.2 38.0,301.6 39.4,304.2 38.3,305.9 38.7,307.8 38.5,309.9 39.5,311.9 38.2,313.8 37.8,316.0 39.5,317.7 38.5,319.6 38.2,320.8 37.2,322.8 38.7,324.9 38.7,326.2 38.8,328.0 38.9,329.7 37.3,331.9 38.8,333.2 37.8,335.8 38.6,337.6 38.1,339.3 38.1,340.9 37.9,342.9 39.1,344.7 38.6,345.9 37.9,348.1 39.1,349.6 37.6,351.2 38.9,353.0 38.0,354.3 39.2,356.0 39.3,357.8 38.0,359.2 39.3,361.4 37.7,363.2 38.5,364.6 39.1,366.0 37.6,368.4 39.1,370.0 40,371.5 44.2,371.5" fill="#a8a8a8"/>
<path d="M38.6 212.9H37.7V214.5H38.6M38.6 215.7H37.6V217.1H38.6M37.7 213.7H37.0V216.4H37.6M38.6 218.7H37.5V220.2H38.6M38.6 221.5H37.9V223.0H38.6M37.5 219.4H36.9V222.3H37.9M37.0 215.1H35.7V220.9H36.9M38.6 225.0H37.3V226.7H38.6M38.6 228.1H38.0V229.6H38.6M38.6 230.8H37.7V232.1H38.6M38.0 228.8H37.1V231.4H37.7M37.3 225.9H36.5V230.1H37.1M38.6 233.5H37.7V235.0H38.6M38.6 236.9H37.4V238.9H38.6M37.7 234.2H36.5V237.9H37.4M36.5 228.0H35.5V236.1H36.5M38.6 241.7H37.9V243.2H38.6M38.6 244.8H37.3V246.1H38.6M37.9 242.5H36.1V245.4H37.3M38.6 247.2H37.9V248.7H38.6M38.6 250.1H38.0V251.3H38.6M37.9 248.0H36.8V250.7H38.0M36.1 244.0H35.3V249.3H36.8M38.6 252.8H38.1V254.0H38.6M38.1 253.4H37.4V255.2H38.6M38.6 256.6H37.3V258.0H38.6M37.3 257.3H36.5V259.6H38.6M37.4 254.3H35.9V258.5H36.5M38.6 261.3H37.9V262.8H38.6M38.6 263.9H37.8V265.2H38.6M37.9 262.1H36.6V264.6H37.8M35.9 256.4H34.8V263.3H36.6M38.6 269.7H38.1V271.1H38.6M38.6 268.1H36.9V270.4H38.1M38.6 272.8H37.7V274.5H38.6M38.6 278.0H38.0V279.4H38.6M38.6 276.2H37.0V278.7H38.0M37.7 273.6H36.4V277.4H37.0M36.9 269.2H35.6V275.5H36.4M38.6 283.8H37.5V285.1H38.6M38.6 282.0H36.7V284.4H37.5M38.6 286.4H37.8V288.4H38.6M38.6 290.3H37.6V291.5H38.6M37.8 287.4H37.0V290.9H37.6M36.7 283.2H35.4V289.1H37.0M38.6 293.9H37.5V296.0H38.6M38.6 297.7H38.0V299.0H38.6M38.6 300.4H37.6V302.0H38.6M38.0 298.4H36.9V301.2H37.6M37.5 294.9H36.0V299.8H36.9M38.6 304.1H37.7V305.9H38.6M38.6 307.6H37.4V309.5H38.6M37.7 305.0H36.8V308.5H37.4M38.6 311.4H37.4V313.2H38.6M38.6 316.6H37.5V318.1H38.6M38.6 314.9H36.3V317.4H37.5M37.4 312.3H35.6V316.1H36.3M36.8 306.8H34.3V314.2H35.6M38.6 321.0H38.0V323.1H38.6M38.6 324.9H37.3V326.8H38.6M38.0 322.1H36.6V325.9H37.3M38.6 328.6H37.4V330.0H38.6M37.4 329.3H36.5V331.9H38.6M36.6 324.0H35.7V330.6H36.5M38.6 334.5H37.9V335.9H38.6M37.9 335.2H37.0V337.8H38.6M38.6 340.0H37.9V342.2H38.6M38.6 344.1H37.9V345.5H38.6M37.9 341.1H37.4V344.8H37.9M37.0 336.5H36.3V342.9H37.4M38.6 348.9H37.8V350.1H38.6M38.6 347.7H36.8V349.5H37.8M38.6 353.1H37.4V354.3H38.6M38.6 351.7H36.1V353.7H37.4M36.8 348.6H35.1V352.7H36.1M38.6 356.0H38.0V358.0H38.6M38.6 359.5H38.1V361.0H38.6M38.0 357.0H36.8V360.2H38.1M38.6 363.5H37.6V364.9H38.6M37.6 364.2H36.7V366.7H38.6M38.6 368.5H37.8V370.2H38.6M36.7 365.4H35.4V369.4H37.8M35.7 218.0H33.5V232.0H35.5M35.3 246.7H33.0V259.9H34.8M33.5 225.0H31.0V253.3H33.0M35.6 272.4H33.2V286.2H35.4M36.0 297.3H33.6V310.5H34.3M33.2 279.3H31.6V303.9H33.6M31.0 240.6H25.0V294.6H31.6M35.7 327.3H28.7V339.7H36.3M25.0 268.6H17.3V334.0H28.7M35.1 350.7H31.5V358.6H36.8M31.5 354.6H28.7V367.4H35.4M28.7 361.0H18.7V371.6H36" fill="none" stroke="#222" stroke-width="0.6"/>
</g>
<g>
<path d="M273.1 192.8H502.7V344.4" fill="none" stroke="#9a9a9a" stroke-width="0.8"/>
<rect x="273.1" y="195.2" width="49.7" height="16.8" fill="#d9ecc6" stroke="#4a4a44" stroke-width="1.1"/>
<text class="e" x="327.9" y="206.4">Transcription factor binding</text>
<rect x="273.1" y="217.0" width="152.4" height="16.8" fill="#d9ecc6" stroke="#4a4a44" stroke-width="1.1"/>
<text class="e" x="276.5" y="228.2">Steroid hormone receptor signaling</text>
<rect x="273.1" y="238.7" width="157.9" height="16.8" fill="#d9ecc6" stroke="#4a4a44" stroke-width="1.1"/>
<text class="e" x="276.5" y="249.9">Microbody part</text>
<rect x="273.1" y="260.4" width="140.1" height="16.8" fill="#d9ecc6" stroke="#4a4a44" stroke-width="1.1"/>
<text class="e" x="276.5" y="271.6">Peroxisomal Membrane</text>
<rect x="273.1" y="282.4" width="194.4" height="16.8" fill="#d9ecc6" stroke="#4a4a44" stroke-width="1.1"/>
<text class="e" x="276.5" y="293.6">Regeneration</text>
<rect x="273.1" y="304.1" width="52.7" height="16.8" fill="#d9ecc6" stroke="#4a4a44" stroke-width="1.1"/>
<text class="e" x="329.6" y="315.3">Regulation of Transcription from Pol II promoter</text>
<rect x="273.1" y="325.8" width="142.4" height="16.8" fill="#d9ecc6" stroke="#4a4a44" stroke-width="1.1"/>
<text class="e" x="276.5" y="337.0">Lipid Transport</text>
<path d="M429.6 303L437.8 278.6L443.8 278.6L435.6 303z" fill="#fff"/>
<path d="M429.6 302.8L437.8 278.8M435.6 302.8L443.8 278.8" stroke="#222" stroke-width="1.4" fill="none"/>
<text class="e" x="444.6" y="293.6">27.1</text>
<path d="M273.1 192.8V344.4H502.7" fill="none" stroke="#333" stroke-width="1"/>
<line x1="273.1" y1="344.4" x2="273.1" y2="347.79999999999995" stroke="#333" stroke-width="0.9"/>
<text class="e" x="273.1" y="356.4" text-anchor="middle">0</text>
<line x1="361.3" y1="344.4" x2="361.3" y2="347.79999999999995" stroke="#333" stroke-width="0.9"/>
<text class="e" x="361.3" y="356.4" text-anchor="middle">5</text>
<line x1="449.5" y1="344.4" x2="449.5" y2="347.79999999999995" stroke="#333" stroke-width="0.9"/>
<text class="e" x="449.5" y="356.4" text-anchor="middle">10</text>
<text class="e" x="275.7" y="365.5" style="font-size:7.68px">Overrepresentation of Gene Ontology Categories (all <tspan font-style="italic" font-weight="bold">P</tspan> &lt;&#160; .01)</text>
</g>
</svg></body></html>
